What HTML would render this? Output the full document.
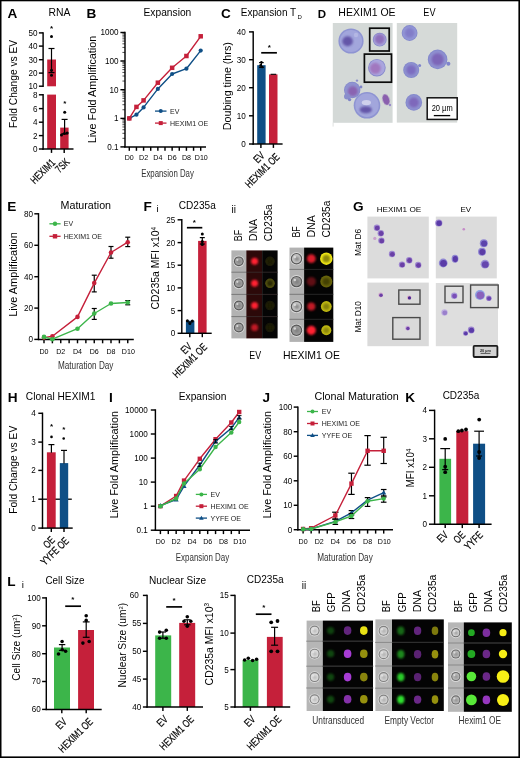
<!DOCTYPE html>
<html lang="en"><head><meta charset="utf-8"><title>Figure</title>
<style>html,body{margin:0;padding:0;background:#fff}svg text{white-space:pre}</style></head>
<body>
<svg width="520" height="758" viewBox="0 0 520 758" font-family='"Liberation Sans", Arial, Helvetica, sans-serif' style="display:block">
<defs>
<filter id="b1" x="-50%" y="-50%" width="200%" height="200%"><feGaussianBlur stdDeviation="0.6"/></filter>
<filter id="b2" x="-50%" y="-50%" width="200%" height="200%"><feGaussianBlur stdDeviation="1.1"/></filter>
<filter id="b3" x="-50%" y="-50%" width="200%" height="200%"><feGaussianBlur stdDeviation="1.8"/></filter>
<radialGradient id="gcell" cx="50%" cy="50%" r="50%"><stop offset="0" stop-color="#9a8fd0"/><stop offset="0.75" stop-color="#8f8fd6"/><stop offset="1" stop-color="#7f83cf"/></radialGradient>
<radialGradient id="gbf" cx="50%" cy="50%" r="50%"><stop offset="0" stop-color="#d8d8d8"/><stop offset="0.55" stop-color="#b8b8b8"/><stop offset="0.8" stop-color="#6e6e6e"/><stop offset="1" stop-color="#c4c4c4"/></radialGradient>
</defs>
<rect x="0.00" y="0.00" width="520.00" height="758.00" fill="#fff"/>
<g opacity="0.999">
<text x="12.30" y="18.27" font-size="13.6" text-anchor="middle" font-weight="bold">A</text>
<text x="59.60" y="16.32" font-size="10.4" text-anchor="middle">RNA</text>
<text transform="translate(16.87 83.90) rotate(-90)" font-size="10.8" text-anchor="middle" textLength="88.00" lengthAdjust="spacingAndGlyphs">Fold Change vs EV</text>
<rect x="47.20" y="59.50" width="8.80" height="26.80" fill="#c5203a"/>
<rect x="47.20" y="94.60" width="8.80" height="54.40" fill="#c5203a"/>
<rect x="60.20" y="127.60" width="8.40" height="21.40" fill="#c5203a"/>
<line x1="43.10" y1="32.17" x2="43.10" y2="86.92" stroke="#000" stroke-width="1.45"/>
<line x1="38.90" y1="32.90" x2="43.10" y2="32.90" stroke="#000" stroke-width="1.45"/>
<text x="37.50" y="35.82" font-size="8.15" text-anchor="end">50</text>
<line x1="38.90" y1="46.10" x2="43.10" y2="46.10" stroke="#000" stroke-width="1.45"/>
<text x="37.50" y="49.02" font-size="8.15" text-anchor="end">40</text>
<line x1="38.90" y1="59.70" x2="43.10" y2="59.70" stroke="#000" stroke-width="1.45"/>
<text x="37.50" y="62.62" font-size="8.15" text-anchor="end">30</text>
<line x1="38.90" y1="73.10" x2="43.10" y2="73.10" stroke="#000" stroke-width="1.45"/>
<text x="37.50" y="76.02" font-size="8.15" text-anchor="end">20</text>
<line x1="38.90" y1="86.20" x2="43.10" y2="86.20" stroke="#000" stroke-width="1.45"/>
<text x="37.50" y="89.12" font-size="8.15" text-anchor="end">10</text>
<line x1="43.10" y1="94.08" x2="43.10" y2="149.72" stroke="#000" stroke-width="1.45"/>
<line x1="38.90" y1="94.80" x2="43.10" y2="94.80" stroke="#000" stroke-width="1.45"/>
<text x="37.50" y="97.72" font-size="8.15" text-anchor="end">8</text>
<line x1="38.90" y1="108.60" x2="43.10" y2="108.60" stroke="#000" stroke-width="1.45"/>
<text x="37.50" y="111.52" font-size="8.15" text-anchor="end">6</text>
<line x1="38.90" y1="122.20" x2="43.10" y2="122.20" stroke="#000" stroke-width="1.45"/>
<text x="37.50" y="125.12" font-size="8.15" text-anchor="end">4</text>
<line x1="38.90" y1="135.60" x2="43.10" y2="135.60" stroke="#000" stroke-width="1.45"/>
<text x="37.50" y="138.52" font-size="8.15" text-anchor="end">2</text>
<line x1="38.90" y1="149.00" x2="43.10" y2="149.00" stroke="#000" stroke-width="1.45"/>
<text x="37.50" y="151.92" font-size="8.15" text-anchor="end">0</text>
<line x1="42.38" y1="149.00" x2="73.50" y2="149.00" stroke="#000" stroke-width="1.45"/>
<line x1="51.50" y1="149.00" x2="51.50" y2="152.90" stroke="#000" stroke-width="1.45"/>
<line x1="64.20" y1="149.00" x2="64.20" y2="152.90" stroke="#000" stroke-width="1.45"/>
<line x1="51.50" y1="48.50" x2="51.50" y2="72.60" stroke="#000" stroke-width="1.2"/>
<line x1="48.50" y1="48.50" x2="54.50" y2="48.50" stroke="#000" stroke-width="1.2"/>
<line x1="48.50" y1="72.60" x2="54.50" y2="72.60" stroke="#000" stroke-width="1.2"/>
<line x1="64.60" y1="119.40" x2="64.60" y2="133.80" stroke="#000" stroke-width="1.2"/>
<line x1="61.60" y1="119.40" x2="67.60" y2="119.40" stroke="#000" stroke-width="1.2"/>
<line x1="61.60" y1="133.80" x2="67.60" y2="133.80" stroke="#000" stroke-width="1.2"/>
<circle cx="51.50" cy="36.50" r="1.50" fill="#000"/>
<circle cx="51.50" cy="70.30" r="1.50" fill="#000"/>
<circle cx="51.50" cy="75.30" r="1.50" fill="#000"/>
<circle cx="64.70" cy="112.30" r="1.50" fill="#000"/>
<circle cx="61.50" cy="135.00" r="1.50" fill="#000"/>
<circle cx="64.40" cy="133.50" r="1.50" fill="#000"/>
<circle cx="67.20" cy="132.90" r="1.50" fill="#000"/>
<text x="51.50" y="30.56" font-size="8.0" text-anchor="middle" font-weight="bold">*</text>
<text x="64.70" y="105.76" font-size="8.0" text-anchor="middle" font-weight="bold">*</text>
<text transform="translate(55.80 163.40) rotate(-45) scale(0.74 1)" font-size="10.8" text-anchor="end" fill="#000" stroke="#000" stroke-width="0.22">HEXIM1</text>
<text transform="translate(70.20 162.80) rotate(-45) scale(0.74 1)" font-size="10.8" text-anchor="end" fill="#000" stroke="#000" stroke-width="0.22">7SK</text>
<text x="91.30" y="18.27" font-size="13.6" text-anchor="middle" font-weight="bold">B</text>
<text x="167.40" y="16.29" font-size="10.6" text-anchor="middle" textLength="47.80" lengthAdjust="spacingAndGlyphs">Expansion</text>
<text transform="translate(96.17 89.50) rotate(-90)" font-size="10.8" text-anchor="middle" textLength="107.60" lengthAdjust="spacingAndGlyphs">Live Fold Amplification</text>
<line x1="125.00" y1="31.77" x2="125.00" y2="147.62" stroke="#000" stroke-width="1.45"/>
<line x1="120.40" y1="32.50" x2="125.00" y2="32.50" stroke="#000" stroke-width="1.45"/>
<text x="118.50" y="35.42" font-size="8.15" text-anchor="end">1000</text>
<line x1="120.40" y1="61.00" x2="125.00" y2="61.00" stroke="#000" stroke-width="1.45"/>
<text x="118.50" y="63.92" font-size="8.15" text-anchor="end">100</text>
<line x1="120.40" y1="89.70" x2="125.00" y2="89.70" stroke="#000" stroke-width="1.45"/>
<text x="118.50" y="92.62" font-size="8.15" text-anchor="end">10</text>
<line x1="120.40" y1="118.40" x2="125.00" y2="118.40" stroke="#000" stroke-width="1.45"/>
<text x="118.50" y="121.32" font-size="8.15" text-anchor="end">1</text>
<line x1="120.40" y1="146.90" x2="125.00" y2="146.90" stroke="#000" stroke-width="1.45"/>
<text x="118.50" y="149.82" font-size="8.15" text-anchor="end">0.1</text>
<line x1="122.40" y1="52.42" x2="125.00" y2="52.42" stroke="#000" stroke-width="0.7"/>
<line x1="122.40" y1="47.40" x2="125.00" y2="47.40" stroke="#000" stroke-width="0.7"/>
<line x1="122.40" y1="43.84" x2="125.00" y2="43.84" stroke="#000" stroke-width="0.7"/>
<line x1="122.40" y1="41.08" x2="125.00" y2="41.08" stroke="#000" stroke-width="0.7"/>
<line x1="122.40" y1="38.82" x2="125.00" y2="38.82" stroke="#000" stroke-width="0.7"/>
<line x1="122.40" y1="36.91" x2="125.00" y2="36.91" stroke="#000" stroke-width="0.7"/>
<line x1="122.40" y1="35.26" x2="125.00" y2="35.26" stroke="#000" stroke-width="0.7"/>
<line x1="122.40" y1="33.80" x2="125.00" y2="33.80" stroke="#000" stroke-width="0.7"/>
<line x1="122.40" y1="81.06" x2="125.00" y2="81.06" stroke="#000" stroke-width="0.7"/>
<line x1="122.40" y1="76.01" x2="125.00" y2="76.01" stroke="#000" stroke-width="0.7"/>
<line x1="122.40" y1="72.42" x2="125.00" y2="72.42" stroke="#000" stroke-width="0.7"/>
<line x1="122.40" y1="69.64" x2="125.00" y2="69.64" stroke="#000" stroke-width="0.7"/>
<line x1="122.40" y1="67.37" x2="125.00" y2="67.37" stroke="#000" stroke-width="0.7"/>
<line x1="122.40" y1="65.45" x2="125.00" y2="65.45" stroke="#000" stroke-width="0.7"/>
<line x1="122.40" y1="63.78" x2="125.00" y2="63.78" stroke="#000" stroke-width="0.7"/>
<line x1="122.40" y1="62.31" x2="125.00" y2="62.31" stroke="#000" stroke-width="0.7"/>
<line x1="122.40" y1="109.76" x2="125.00" y2="109.76" stroke="#000" stroke-width="0.7"/>
<line x1="122.40" y1="104.71" x2="125.00" y2="104.71" stroke="#000" stroke-width="0.7"/>
<line x1="122.40" y1="101.12" x2="125.00" y2="101.12" stroke="#000" stroke-width="0.7"/>
<line x1="122.40" y1="98.34" x2="125.00" y2="98.34" stroke="#000" stroke-width="0.7"/>
<line x1="122.40" y1="96.07" x2="125.00" y2="96.07" stroke="#000" stroke-width="0.7"/>
<line x1="122.40" y1="94.15" x2="125.00" y2="94.15" stroke="#000" stroke-width="0.7"/>
<line x1="122.40" y1="92.48" x2="125.00" y2="92.48" stroke="#000" stroke-width="0.7"/>
<line x1="122.40" y1="91.01" x2="125.00" y2="91.01" stroke="#000" stroke-width="0.7"/>
<line x1="122.40" y1="138.32" x2="125.00" y2="138.32" stroke="#000" stroke-width="0.7"/>
<line x1="122.40" y1="133.30" x2="125.00" y2="133.30" stroke="#000" stroke-width="0.7"/>
<line x1="122.40" y1="129.74" x2="125.00" y2="129.74" stroke="#000" stroke-width="0.7"/>
<line x1="122.40" y1="126.98" x2="125.00" y2="126.98" stroke="#000" stroke-width="0.7"/>
<line x1="122.40" y1="124.72" x2="125.00" y2="124.72" stroke="#000" stroke-width="0.7"/>
<line x1="122.40" y1="122.81" x2="125.00" y2="122.81" stroke="#000" stroke-width="0.7"/>
<line x1="122.40" y1="121.16" x2="125.00" y2="121.16" stroke="#000" stroke-width="0.7"/>
<line x1="122.40" y1="119.70" x2="125.00" y2="119.70" stroke="#000" stroke-width="0.7"/>
<line x1="124.28" y1="146.90" x2="206.00" y2="146.90" stroke="#000" stroke-width="1.45"/>
<line x1="129.30" y1="146.90" x2="129.30" y2="150.80" stroke="#000" stroke-width="1.45"/>
<line x1="136.44" y1="146.90" x2="136.44" y2="150.80" stroke="#000" stroke-width="1.45"/>
<line x1="143.58" y1="146.90" x2="143.58" y2="150.80" stroke="#000" stroke-width="1.45"/>
<line x1="150.72" y1="146.90" x2="150.72" y2="150.80" stroke="#000" stroke-width="1.45"/>
<line x1="157.86" y1="146.90" x2="157.86" y2="150.80" stroke="#000" stroke-width="1.45"/>
<line x1="165.00" y1="146.90" x2="165.00" y2="150.80" stroke="#000" stroke-width="1.45"/>
<line x1="172.14" y1="146.90" x2="172.14" y2="150.80" stroke="#000" stroke-width="1.45"/>
<line x1="179.28" y1="146.90" x2="179.28" y2="150.80" stroke="#000" stroke-width="1.45"/>
<line x1="186.42" y1="146.90" x2="186.42" y2="150.80" stroke="#000" stroke-width="1.45"/>
<line x1="193.56" y1="146.90" x2="193.56" y2="150.80" stroke="#000" stroke-width="1.45"/>
<line x1="200.70" y1="146.90" x2="200.70" y2="150.80" stroke="#000" stroke-width="1.45"/>
<text x="129.30" y="160.44" font-size="7.1" text-anchor="middle">D0</text>
<text x="143.58" y="160.44" font-size="7.1" text-anchor="middle">D2</text>
<text x="157.86" y="160.44" font-size="7.1" text-anchor="middle">D4</text>
<text x="172.14" y="160.44" font-size="7.1" text-anchor="middle">D6</text>
<text x="186.42" y="160.44" font-size="7.1" text-anchor="middle">D8</text>
<text x="201.30" y="160.44" font-size="7.1" text-anchor="middle">D10</text>
<text transform="translate(167.50 176.58) scale(0.785 1)" font-size="10" text-anchor="middle" fill="#333">Expansion Day</text>
<polyline points="129.30,118.40 136.44,114.70 143.58,107.40 157.86,88.90 172.14,74.00 186.42,68.70 200.70,50.60" fill="none" stroke="#0f4f86" stroke-width="1.4" stroke-linejoin="round"/>
<circle cx="129.30" cy="118.40" r="2.10" fill="#0f4f86"/>
<circle cx="136.44" cy="114.70" r="2.10" fill="#0f4f86"/>
<circle cx="143.58" cy="107.40" r="2.10" fill="#0f4f86"/>
<circle cx="157.86" cy="88.90" r="2.10" fill="#0f4f86"/>
<circle cx="172.14" cy="74.00" r="2.10" fill="#0f4f86"/>
<circle cx="186.42" cy="68.70" r="2.10" fill="#0f4f86"/>
<circle cx="200.70" cy="50.60" r="2.10" fill="#0f4f86"/>
<polyline points="129.30,118.40 136.44,106.90 143.58,100.40 157.86,82.70 172.14,67.80 186.42,56.00 200.70,36.30" fill="none" stroke="#c5203a" stroke-width="1.4" stroke-linejoin="round"/>
<rect x="127.05" y="116.15" width="4.50" height="4.50" fill="#c5203a"/>
<rect x="134.19" y="104.65" width="4.50" height="4.50" fill="#c5203a"/>
<rect x="141.33" y="98.15" width="4.50" height="4.50" fill="#c5203a"/>
<rect x="155.61" y="80.45" width="4.50" height="4.50" fill="#c5203a"/>
<rect x="169.89" y="65.55" width="4.50" height="4.50" fill="#c5203a"/>
<rect x="184.17" y="53.75" width="4.50" height="4.50" fill="#c5203a"/>
<rect x="198.45" y="34.05" width="4.50" height="4.50" fill="#c5203a"/>
<line x1="155.00" y1="111.10" x2="166.50" y2="111.10" stroke="#0f4f86" stroke-width="1.3"/>
<circle cx="160.75" cy="111.10" r="2.00" fill="#0f4f86"/>
<text x="170.00" y="113.61" font-size="7.0" text-anchor="start" fill="#222">EV</text>
<line x1="155.00" y1="123.10" x2="166.50" y2="123.10" stroke="#c5203a" stroke-width="1.3"/>
<rect x="158.75" y="121.10" width="4.00" height="4.00" fill="#c5203a"/>
<text x="170.00" y="125.61" font-size="7.0" text-anchor="start" fill="#222">HEXIM1 OE</text>
<text x="226.00" y="18.27" font-size="13.6" text-anchor="middle" font-weight="bold">C</text>
<text x="240.80" y="16.29" font-size="10.6" text-anchor="start" textLength="55.40" lengthAdjust="spacingAndGlyphs">Expansion T</text>
<text x="297.50" y="18.55" font-size="6.0" text-anchor="start">D</text>
<text transform="translate(231.17 86.20) rotate(-90)" font-size="10.8" text-anchor="middle" textLength="88.00" lengthAdjust="spacingAndGlyphs">Doubing time (hrs)</text>
<rect x="257.20" y="65.20" width="8.40" height="78.80" fill="#0f4f86"/>
<rect x="269.00" y="74.40" width="8.50" height="69.60" fill="#c5203a"/>
<line x1="253.20" y1="31.17" x2="253.20" y2="144.72" stroke="#000" stroke-width="1.45"/>
<line x1="249.00" y1="31.90" x2="253.20" y2="31.90" stroke="#000" stroke-width="1.45"/>
<text x="245.80" y="34.82" font-size="8.15" text-anchor="end">40</text>
<line x1="249.00" y1="59.70" x2="253.20" y2="59.70" stroke="#000" stroke-width="1.45"/>
<text x="245.80" y="62.62" font-size="8.15" text-anchor="end">30</text>
<line x1="249.00" y1="87.70" x2="253.20" y2="87.70" stroke="#000" stroke-width="1.45"/>
<text x="245.80" y="90.62" font-size="8.15" text-anchor="end">20</text>
<line x1="249.00" y1="115.80" x2="253.20" y2="115.80" stroke="#000" stroke-width="1.45"/>
<text x="245.80" y="118.72" font-size="8.15" text-anchor="end">10</text>
<line x1="249.00" y1="144.00" x2="253.20" y2="144.00" stroke="#000" stroke-width="1.45"/>
<text x="245.80" y="146.92" font-size="8.15" text-anchor="end">0</text>
<line x1="252.47" y1="144.00" x2="282.60" y2="144.00" stroke="#000" stroke-width="1.45"/>
<line x1="260.90" y1="144.00" x2="260.90" y2="147.90" stroke="#000" stroke-width="1.45"/>
<line x1="273.40" y1="144.00" x2="273.40" y2="147.90" stroke="#000" stroke-width="1.45"/>
<line x1="261.40" y1="62.60" x2="261.40" y2="67.40" stroke="#000" stroke-width="1.2"/>
<line x1="259.10" y1="62.60" x2="263.70" y2="62.60" stroke="#000" stroke-width="1.2"/>
<line x1="259.10" y1="67.40" x2="263.70" y2="67.40" stroke="#000" stroke-width="1.2"/>
<circle cx="261.40" cy="62.20" r="1.30" fill="#000"/>
<circle cx="260.60" cy="65.40" r="1.30" fill="#000"/>
<circle cx="262.20" cy="67.00" r="1.30" fill="#000"/>
<line x1="270.60" y1="74.30" x2="276.20" y2="74.30" stroke="#000" stroke-width="1.1"/>
<line x1="261.20" y1="52.80" x2="276.90" y2="52.80" stroke="#000" stroke-width="1.7"/>
<text x="269.40" y="49.56" font-size="8.0" text-anchor="middle" font-weight="bold">*</text>
<text transform="translate(265.30 156.30) rotate(-45) scale(0.74 1)" font-size="10.8" text-anchor="end" fill="#000" stroke="#000" stroke-width="0.22">EV</text>
<text transform="translate(280.30 157.60) rotate(-45) scale(0.74 1)" font-size="10.8" text-anchor="end" fill="#000" stroke="#000" stroke-width="0.22">HEXIM1 OE</text>
<text x="322.00" y="17.62" font-size="11.5" text-anchor="middle" font-weight="bold">D</text>
<text x="367.00" y="16.09" font-size="10.6" text-anchor="middle" textLength="57.30" lengthAdjust="spacingAndGlyphs">HEXIM1 OE</text>
<text x="429.40" y="16.09" font-size="10.6" text-anchor="middle" textLength="12.20" lengthAdjust="spacingAndGlyphs">EV</text>
<rect x="332.80" y="23.00" width="59.80" height="99.80" fill="#d4d9d7"/>
<rect x="332.60" y="122.60" width="1.00" height="4.00" fill="#dfe2e0"/>
<rect x="396.80" y="23.00" width="60.40" height="99.60" fill="#d6dad8"/>
<circle cx="351.00" cy="41.00" r="12.60" fill="#8e94d2" filter="url(#b1)"/>
<circle cx="351.00" cy="41.00" r="11.09" fill="#a2a6dc" filter="url(#b1)"/>
<ellipse cx="347.60" cy="41.20" rx="5.29" ry="5.04" fill="#5a4aa0" filter="url(#b2)" opacity="0.85"/>
<circle cx="356.00" cy="35.00" r="2.20" fill="#b9bce6" filter="url(#b1)" opacity="0.8"/>
<ellipse cx="379.70" cy="39.70" rx="6.90" ry="6.90" fill="#8489cc" filter="url(#b1)"/>
<ellipse cx="379.70" cy="39.70" rx="6.21" ry="6.21" fill="#a8a2da" filter="url(#b1)"/>
<ellipse cx="379.70" cy="39.10" rx="4.83" ry="4.83" fill="#8a66b6" filter="url(#b2)" opacity="0.85"/>
<ellipse cx="376.90" cy="67.70" rx="8.80" ry="8.80" fill="#8489cc" filter="url(#b1)"/>
<ellipse cx="376.90" cy="67.70" rx="7.92" ry="7.92" fill="#aaa6de" filter="url(#b1)"/>
<ellipse cx="375.30" cy="68.30" rx="5.46" ry="5.46" fill="#a070ba" filter="url(#b2)" opacity="0.85"/>
<ellipse cx="352.20" cy="90.00" rx="8.20" ry="8.20" fill="#8489cc" filter="url(#b1)"/>
<ellipse cx="352.20" cy="90.00" rx="7.38" ry="7.38" fill="#9093d0" filter="url(#b1)"/>
<ellipse cx="352.80" cy="91.20" rx="4.92" ry="4.92" fill="#8a5cac" filter="url(#b2)" opacity="0.85"/>
<circle cx="347.00" cy="96.60" r="3.00" fill="#8a8ecc" filter="url(#b1)"/>
<circle cx="349.60" cy="99.60" r="1.70" fill="#7f84c8" filter="url(#b1)"/>
<circle cx="361.00" cy="87.00" r="1.40" fill="#7f84c8" filter="url(#b1)"/>
<circle cx="357.00" cy="80.60" r="1.20" fill="#8a8ecc" filter="url(#b1)"/>
<circle cx="367.00" cy="105.30" r="13.30" fill="#8e94d2" filter="url(#b1)"/>
<circle cx="367.00" cy="105.30" r="11.70" fill="#a2a6dc" filter="url(#b1)"/>
<ellipse cx="365.80" cy="109.70" rx="6.12" ry="3.46" fill="#5a4aa0" filter="url(#b2)" opacity="0.85"/>
<ellipse cx="366.40" cy="102.60" rx="4.60" ry="2.60" fill="#cfd0ec" filter="url(#b1)"/>
<ellipse cx="386.00" cy="99.60" rx="3.40" ry="5.60" fill="#8a5eae" filter="url(#b1)" transform="rotate(-18 386 99.6)"/>
<circle cx="390.00" cy="105.00" r="1.20" fill="#9a8ccc" filter="url(#b1)"/>
<rect x="369.70" y="28.20" width="19.50" height="22.80" fill="none" stroke="#0a0a0a" stroke-width="1.7"/>
<rect x="364.40" y="54.10" width="27.10" height="28.10" fill="none" stroke="#0a0a0a" stroke-width="1.7"/>
<ellipse cx="409.60" cy="33.00" rx="7.90" ry="7.90" fill="#8489cc" filter="url(#b1)"/>
<ellipse cx="409.60" cy="33.00" rx="7.11" ry="7.11" fill="#9296d6" filter="url(#b1)"/>
<ellipse cx="409.60" cy="33.00" rx="4.74" ry="4.74" fill="#7f78c6" filter="url(#b2)" opacity="0.85"/>
<ellipse cx="437.60" cy="59.40" rx="9.80" ry="9.80" fill="#8489cc" filter="url(#b1)"/>
<ellipse cx="437.60" cy="59.40" rx="8.82" ry="8.82" fill="#8f90d0" filter="url(#b1)"/>
<ellipse cx="437.60" cy="59.40" rx="6.08" ry="6.08" fill="#7a5fb4" filter="url(#b2)" opacity="0.85"/>
<circle cx="448.40" cy="63.80" r="2.00" fill="#7f84cc" filter="url(#b1)"/>
<ellipse cx="411.20" cy="70.00" rx="8.00" ry="8.00" fill="#8489cc" filter="url(#b1)"/>
<ellipse cx="411.20" cy="70.00" rx="7.20" ry="7.20" fill="#8e90d0" filter="url(#b1)"/>
<ellipse cx="411.20" cy="70.00" rx="4.80" ry="4.80" fill="#7a68be" filter="url(#b2)" opacity="0.85"/>
<circle cx="419.60" cy="65.60" r="1.50" fill="#7f84cc" filter="url(#b1)"/>
<ellipse cx="413.80" cy="102.40" rx="8.30" ry="8.30" fill="#8489cc" filter="url(#b1)"/>
<ellipse cx="413.80" cy="102.40" rx="7.47" ry="7.47" fill="#8e90d0" filter="url(#b1)"/>
<ellipse cx="413.80" cy="102.40" rx="4.98" ry="4.98" fill="#7c62b8" filter="url(#b2)" opacity="0.85"/>
<rect x="427.20" y="97.80" width="30.00" height="21.60" fill="#fdfdfd" stroke="#111" stroke-width="1.5"/>
<text x="442.20" y="110.74" font-size="8.2" text-anchor="middle" textLength="21.00" lengthAdjust="spacingAndGlyphs">20 µm</text>
<line x1="433.80" y1="115.60" x2="450.20" y2="115.60" stroke="#000" stroke-width="1.3"/>
<text x="11.90" y="210.87" font-size="13.6" text-anchor="middle" font-weight="bold">E</text>
<text x="85.80" y="209.32" font-size="10.4" text-anchor="middle" textLength="50.50" lengthAdjust="spacingAndGlyphs">Maturation</text>
<text transform="translate(17.07 274.50) rotate(-90)" font-size="10.8" text-anchor="middle" textLength="84.50" lengthAdjust="spacingAndGlyphs">Live Amplification</text>
<line x1="38.50" y1="213.08" x2="38.50" y2="340.12" stroke="#000" stroke-width="1.45"/>
<line x1="34.30" y1="213.80" x2="38.50" y2="213.80" stroke="#000" stroke-width="1.45"/>
<text x="33.10" y="216.72" font-size="8.15" text-anchor="end">80</text>
<line x1="34.30" y1="245.30" x2="38.50" y2="245.30" stroke="#000" stroke-width="1.45"/>
<text x="33.10" y="248.22" font-size="8.15" text-anchor="end">60</text>
<line x1="34.30" y1="276.70" x2="38.50" y2="276.70" stroke="#000" stroke-width="1.45"/>
<text x="33.10" y="279.62" font-size="8.15" text-anchor="end">40</text>
<line x1="34.30" y1="308.10" x2="38.50" y2="308.10" stroke="#000" stroke-width="1.45"/>
<text x="33.10" y="311.02" font-size="8.15" text-anchor="end">20</text>
<line x1="34.30" y1="339.40" x2="38.50" y2="339.40" stroke="#000" stroke-width="1.45"/>
<text x="33.10" y="342.32" font-size="8.15" text-anchor="end">0</text>
<line x1="37.77" y1="339.40" x2="133.80" y2="339.40" stroke="#000" stroke-width="1.45"/>
<line x1="44.00" y1="339.40" x2="44.00" y2="343.30" stroke="#000" stroke-width="1.45"/>
<line x1="52.38" y1="339.40" x2="52.38" y2="343.30" stroke="#000" stroke-width="1.45"/>
<line x1="60.75" y1="339.40" x2="60.75" y2="343.30" stroke="#000" stroke-width="1.45"/>
<line x1="69.12" y1="339.40" x2="69.12" y2="343.30" stroke="#000" stroke-width="1.45"/>
<line x1="77.50" y1="339.40" x2="77.50" y2="343.30" stroke="#000" stroke-width="1.45"/>
<line x1="85.88" y1="339.40" x2="85.88" y2="343.30" stroke="#000" stroke-width="1.45"/>
<line x1="94.25" y1="339.40" x2="94.25" y2="343.30" stroke="#000" stroke-width="1.45"/>
<line x1="102.62" y1="339.40" x2="102.62" y2="343.30" stroke="#000" stroke-width="1.45"/>
<line x1="111.00" y1="339.40" x2="111.00" y2="343.30" stroke="#000" stroke-width="1.45"/>
<line x1="119.38" y1="339.40" x2="119.38" y2="343.30" stroke="#000" stroke-width="1.45"/>
<line x1="127.75" y1="339.40" x2="127.75" y2="343.30" stroke="#000" stroke-width="1.45"/>
<text x="44.00" y="353.54" font-size="7.1" text-anchor="middle">D0</text>
<text x="60.75" y="353.54" font-size="7.1" text-anchor="middle">D2</text>
<text x="77.50" y="353.54" font-size="7.1" text-anchor="middle">D4</text>
<text x="94.25" y="353.54" font-size="7.1" text-anchor="middle">D6</text>
<text x="111.00" y="353.54" font-size="7.1" text-anchor="middle">D8</text>
<text x="128.35" y="353.54" font-size="7.1" text-anchor="middle">D10</text>
<text transform="translate(85.70 369.48) scale(0.82 1)" font-size="10" text-anchor="middle" fill="#333">Maturation Day</text>
<line x1="94.25" y1="275.20" x2="94.25" y2="291.90" stroke="#000" stroke-width="1.2"/>
<line x1="91.75" y1="275.20" x2="96.75" y2="275.20" stroke="#000" stroke-width="1.2"/>
<line x1="91.75" y1="291.90" x2="96.75" y2="291.90" stroke="#000" stroke-width="1.2"/>
<line x1="111.00" y1="246.50" x2="111.00" y2="258.20" stroke="#000" stroke-width="1.2"/>
<line x1="108.50" y1="246.50" x2="113.50" y2="246.50" stroke="#000" stroke-width="1.2"/>
<line x1="108.50" y1="258.20" x2="113.50" y2="258.20" stroke="#000" stroke-width="1.2"/>
<line x1="127.75" y1="237.20" x2="127.75" y2="246.60" stroke="#000" stroke-width="1.2"/>
<line x1="125.25" y1="237.20" x2="130.25" y2="237.20" stroke="#000" stroke-width="1.2"/>
<line x1="125.25" y1="246.60" x2="130.25" y2="246.60" stroke="#000" stroke-width="1.2"/>
<line x1="94.25" y1="308.50" x2="94.25" y2="319.40" stroke="#000" stroke-width="1.2"/>
<line x1="91.75" y1="308.50" x2="96.75" y2="308.50" stroke="#000" stroke-width="1.2"/>
<line x1="91.75" y1="319.40" x2="96.75" y2="319.40" stroke="#000" stroke-width="1.2"/>
<line x1="127.75" y1="300.60" x2="127.75" y2="304.80" stroke="#000" stroke-width="1.2"/>
<line x1="125.25" y1="300.60" x2="130.25" y2="300.60" stroke="#000" stroke-width="1.2"/>
<line x1="125.25" y1="304.80" x2="130.25" y2="304.80" stroke="#000" stroke-width="1.2"/>
<polyline points="44.00,337.60 52.38,336.20 77.50,316.90 94.25,283.10 111.00,252.50 127.75,242.20" fill="none" stroke="#c5203a" stroke-width="1.4" stroke-linejoin="round"/>
<circle cx="44.00" cy="337.60" r="2.30" fill="#c5203a"/>
<circle cx="52.38" cy="336.20" r="2.30" fill="#c5203a"/>
<circle cx="77.50" cy="316.90" r="2.30" fill="#c5203a"/>
<circle cx="94.25" cy="283.10" r="2.30" fill="#c5203a"/>
<circle cx="111.00" cy="252.50" r="2.30" fill="#c5203a"/>
<circle cx="127.75" cy="242.20" r="2.30" fill="#c5203a"/>
<polyline points="44.00,336.90 52.38,339.20 77.50,328.70 94.25,313.50 111.00,303.50 127.75,302.50" fill="none" stroke="#3cb54a" stroke-width="1.4" stroke-linejoin="round"/>
<circle cx="44.00" cy="336.90" r="2.30" fill="#3cb54a"/>
<circle cx="52.38" cy="339.20" r="2.30" fill="#3cb54a"/>
<circle cx="77.50" cy="328.70" r="2.30" fill="#3cb54a"/>
<circle cx="94.25" cy="313.50" r="2.30" fill="#3cb54a"/>
<circle cx="111.00" cy="303.50" r="2.30" fill="#3cb54a"/>
<circle cx="127.75" cy="302.50" r="2.30" fill="#3cb54a"/>
<line x1="49.40" y1="223.80" x2="60.60" y2="223.80" stroke="#3cb54a" stroke-width="1.3"/>
<circle cx="55.00" cy="223.80" r="2.20" fill="#3cb54a"/>
<text x="63.80" y="226.31" font-size="7.0" text-anchor="start" fill="#222">EV</text>
<line x1="49.40" y1="236.30" x2="60.60" y2="236.30" stroke="#c5203a" stroke-width="1.3"/>
<rect x="52.80" y="234.10" width="4.40" height="4.40" fill="#c5203a"/>
<text x="63.80" y="238.81" font-size="7.0" text-anchor="start" fill="#222">HEXIM1 OE</text>
<text x="147.60" y="210.87" font-size="13.6" text-anchor="middle" font-weight="bold">F</text>
<text x="157.70" y="212.40" font-size="9.8" text-anchor="middle">i</text>
<text x="197.30" y="208.85" font-size="10.2" text-anchor="middle" textLength="37.00" lengthAdjust="spacingAndGlyphs">CD235a</text>
<text transform="translate(159.47 268.20) rotate(-90)" font-size="10.8" text-anchor="middle" textLength="82.60" lengthAdjust="spacingAndGlyphs">CD235a MFI x10<tspan dy="-3.0" font-size="6.6">4</tspan></text>
<rect x="185.90" y="320.70" width="8.50" height="12.60" fill="#0f4f86"/>
<rect x="198.10" y="240.90" width="8.50" height="92.40" fill="#c5203a"/>
<line x1="181.80" y1="219.08" x2="181.80" y2="334.03" stroke="#000" stroke-width="1.45"/>
<line x1="177.60" y1="219.80" x2="181.80" y2="219.80" stroke="#000" stroke-width="1.45"/>
<text x="175.30" y="222.72" font-size="8.15" text-anchor="end">25</text>
<line x1="177.60" y1="242.60" x2="181.80" y2="242.60" stroke="#000" stroke-width="1.45"/>
<text x="175.30" y="245.52" font-size="8.15" text-anchor="end">20</text>
<line x1="177.60" y1="265.20" x2="181.80" y2="265.20" stroke="#000" stroke-width="1.45"/>
<text x="175.30" y="268.12" font-size="8.15" text-anchor="end">15</text>
<line x1="177.60" y1="287.90" x2="181.80" y2="287.90" stroke="#000" stroke-width="1.45"/>
<text x="175.30" y="290.82" font-size="8.15" text-anchor="end">10</text>
<line x1="177.60" y1="310.60" x2="181.80" y2="310.60" stroke="#000" stroke-width="1.45"/>
<text x="175.30" y="313.52" font-size="8.15" text-anchor="end">5</text>
<line x1="177.60" y1="333.30" x2="181.80" y2="333.30" stroke="#000" stroke-width="1.45"/>
<text x="175.30" y="336.22" font-size="8.15" text-anchor="end">0</text>
<line x1="181.08" y1="333.30" x2="211.70" y2="333.30" stroke="#000" stroke-width="1.45"/>
<line x1="189.80" y1="333.30" x2="189.80" y2="337.20" stroke="#000" stroke-width="1.45"/>
<line x1="202.30" y1="333.30" x2="202.30" y2="337.20" stroke="#000" stroke-width="1.45"/>
<line x1="202.30" y1="237.60" x2="202.30" y2="244.00" stroke="#000" stroke-width="1.2"/>
<line x1="199.80" y1="237.60" x2="204.80" y2="237.60" stroke="#000" stroke-width="1.2"/>
<line x1="199.80" y1="244.00" x2="204.80" y2="244.00" stroke="#000" stroke-width="1.2"/>
<circle cx="202.30" cy="233.90" r="1.50" fill="#000"/>
<circle cx="202.30" cy="241.60" r="1.50" fill="#000"/>
<circle cx="202.30" cy="244.60" r="1.50" fill="#000"/>
<circle cx="187.40" cy="320.80" r="1.50" fill="#000"/>
<circle cx="189.90" cy="323.60" r="1.50" fill="#000"/>
<circle cx="192.30" cy="321.00" r="1.50" fill="#000"/>
<line x1="187.60" y1="322.00" x2="192.20" y2="322.00" stroke="#000" stroke-width="1.0"/>
<line x1="186.90" y1="227.70" x2="202.30" y2="227.70" stroke="#000" stroke-width="1.7"/>
<text x="194.40" y="224.76" font-size="8.0" text-anchor="middle" font-weight="bold">*</text>
<text transform="translate(192.60 347.20) rotate(-45) scale(0.74 1)" font-size="10.8" text-anchor="end" fill="#000" stroke="#000" stroke-width="0.22">EV</text>
<text transform="translate(207.90 347.80) rotate(-45) scale(0.74 1)" font-size="10.8" text-anchor="end" fill="#000" stroke="#000" stroke-width="0.22">HEXIM1 OE</text>
<text x="233.80" y="212.90" font-size="10.0" text-anchor="middle">ii</text>
<text transform="translate(241.92 241.20) rotate(-90)" font-size="10.4" text-anchor="start" textLength="11.40" lengthAdjust="spacingAndGlyphs">BF</text>
<text transform="translate(256.92 241.20) rotate(-90)" font-size="10.4" text-anchor="start" textLength="22.40" lengthAdjust="spacingAndGlyphs">DNA</text>
<text transform="translate(272.12 241.20) rotate(-90)" font-size="10.4" text-anchor="start" textLength="36.90" lengthAdjust="spacingAndGlyphs">CD235a</text>
<text transform="translate(300.22 237.60) rotate(-90)" font-size="10.4" text-anchor="start" textLength="11.40" lengthAdjust="spacingAndGlyphs">BF</text>
<text transform="translate(315.22 237.60) rotate(-90)" font-size="10.4" text-anchor="start" textLength="22.40" lengthAdjust="spacingAndGlyphs">DNA</text>
<text transform="translate(330.32 237.60) rotate(-90)" font-size="10.4" text-anchor="start" textLength="36.90" lengthAdjust="spacingAndGlyphs">CD235a</text>
<text x="255.20" y="359.19" font-size="10.6" text-anchor="middle" textLength="11.80" lengthAdjust="spacingAndGlyphs">EV</text>
<text x="311.40" y="359.19" font-size="10.6" text-anchor="middle" textLength="57.00" lengthAdjust="spacingAndGlyphs">HEXIM1 OE</text>
<rect x="231.40" y="250.40" width="14.90" height="88.00" fill="#b2b2b2"/>
<rect x="246.30" y="250.40" width="15.80" height="88.00" fill="#2c0909"/>
<rect x="262.10" y="250.40" width="15.50" height="88.00" fill="#050505"/>
<line x1="231.40" y1="272.20" x2="246.30" y2="272.20" stroke="#6a6a6a" stroke-width="0.8"/>
<line x1="246.30" y1="272.20" x2="277.60" y2="272.20" stroke="#3a3030" stroke-width="0.8"/>
<line x1="231.40" y1="294.40" x2="246.30" y2="294.40" stroke="#6a6a6a" stroke-width="0.8"/>
<line x1="246.30" y1="294.40" x2="277.60" y2="294.40" stroke="#3a3030" stroke-width="0.8"/>
<line x1="231.40" y1="316.60" x2="246.30" y2="316.60" stroke="#6a6a6a" stroke-width="0.8"/>
<line x1="246.30" y1="316.60" x2="277.60" y2="316.60" stroke="#3a3030" stroke-width="0.8"/>
<circle cx="238.80" cy="261.30" r="5.80" fill="#dadada" filter="url(#b1)"/>
<circle cx="238.80" cy="261.30" r="4.90" fill="#555" filter="url(#b1)"/>
<circle cx="238.80" cy="261.30" r="3.80" fill="#a2a2a2" filter="url(#b1)"/>
<ellipse cx="239.20" cy="261.60" rx="2.21" ry="1.96" fill="#7c7c7c" filter="url(#b2)" opacity="0.8"/>
<circle cx="237.33" cy="259.83" r="1.08" fill="#e4e4e4" filter="url(#b1)" opacity="0.8"/>
<ellipse cx="254.60" cy="261.30" rx="3.50" ry="3.50" fill="#ff2030" filter="url(#b2)" opacity="1.0"/>
<circle cx="270.00" cy="261.30" r="4.80" fill="#c8c420" filter="url(#b1)" opacity="0.14"/>
<circle cx="270.00" cy="261.30" r="2.98" fill="#1a1a04" filter="url(#b2)" opacity="0.8"/>
<circle cx="238.80" cy="283.30" r="5.80" fill="#dadada" filter="url(#b1)"/>
<circle cx="238.80" cy="283.30" r="4.90" fill="#555" filter="url(#b1)"/>
<circle cx="238.80" cy="283.30" r="3.80" fill="#a2a2a2" filter="url(#b1)"/>
<ellipse cx="239.20" cy="283.60" rx="2.21" ry="1.96" fill="#7c7c7c" filter="url(#b2)" opacity="0.8"/>
<circle cx="237.33" cy="281.83" r="1.08" fill="#e4e4e4" filter="url(#b1)" opacity="0.8"/>
<ellipse cx="254.60" cy="283.30" rx="3.50" ry="3.50" fill="#ff2030" filter="url(#b2)" opacity="1.0"/>
<circle cx="270.00" cy="283.30" r="4.80" fill="#c8c420" filter="url(#b1)" opacity="0.42"/>
<circle cx="270.00" cy="283.30" r="2.98" fill="#1a1a04" filter="url(#b2)" opacity="0.8"/>
<circle cx="238.80" cy="305.50" r="5.80" fill="#dadada" filter="url(#b1)"/>
<circle cx="238.80" cy="305.50" r="4.90" fill="#555" filter="url(#b1)"/>
<circle cx="238.80" cy="305.50" r="3.80" fill="#a2a2a2" filter="url(#b1)"/>
<ellipse cx="239.20" cy="305.80" rx="2.21" ry="1.96" fill="#7c7c7c" filter="url(#b2)" opacity="0.8"/>
<circle cx="237.33" cy="304.03" r="1.08" fill="#e4e4e4" filter="url(#b1)" opacity="0.8"/>
<ellipse cx="254.60" cy="305.50" rx="3.50" ry="3.50" fill="#ff2030" filter="url(#b2)" opacity="1.0"/>
<circle cx="270.00" cy="305.50" r="4.80" fill="#c8c420" filter="url(#b1)" opacity="0.12"/>
<circle cx="270.00" cy="305.50" r="2.98" fill="#1a1a04" filter="url(#b2)" opacity="0.8"/>
<circle cx="238.80" cy="327.50" r="5.80" fill="#dadada" filter="url(#b1)"/>
<circle cx="238.80" cy="327.50" r="4.90" fill="#555" filter="url(#b1)"/>
<circle cx="238.80" cy="327.50" r="3.80" fill="#a2a2a2" filter="url(#b1)"/>
<ellipse cx="239.20" cy="327.80" rx="2.21" ry="1.96" fill="#7c7c7c" filter="url(#b2)" opacity="0.8"/>
<circle cx="237.33" cy="326.03" r="1.08" fill="#e4e4e4" filter="url(#b1)" opacity="0.8"/>
<ellipse cx="254.60" cy="327.50" rx="3.50" ry="3.50" fill="#ff2030" filter="url(#b2)" opacity="0.7"/>
<circle cx="270.00" cy="327.50" r="4.80" fill="#c8c420" filter="url(#b1)" opacity="0.1"/>
<circle cx="270.00" cy="327.50" r="2.98" fill="#1a1a04" filter="url(#b2)" opacity="0.8"/>
<rect x="289.50" y="247.60" width="14.60" height="94.30" fill="#b2b2b2"/>
<rect x="304.10" y="247.60" width="29.20" height="94.30" fill="#040404"/>
<line x1="289.50" y1="269.40" x2="304.10" y2="269.40" stroke="#6a6a6a" stroke-width="0.8"/>
<line x1="304.10" y1="269.40" x2="333.30" y2="269.40" stroke="#303030" stroke-width="0.8"/>
<line x1="289.50" y1="294.30" x2="304.10" y2="294.30" stroke="#6a6a6a" stroke-width="0.8"/>
<line x1="304.10" y1="294.30" x2="333.30" y2="294.30" stroke="#303030" stroke-width="0.8"/>
<line x1="289.50" y1="319.30" x2="304.10" y2="319.30" stroke="#6a6a6a" stroke-width="0.8"/>
<line x1="304.10" y1="319.30" x2="333.30" y2="319.30" stroke="#303030" stroke-width="0.8"/>
<circle cx="296.50" cy="258.70" r="6.60" fill="#dadada" filter="url(#b1)"/>
<circle cx="296.50" cy="258.70" r="5.70" fill="#555" filter="url(#b1)"/>
<circle cx="296.50" cy="258.70" r="4.60" fill="#c4c4c4" filter="url(#b1)"/>
<ellipse cx="296.90" cy="259.00" rx="2.56" ry="2.28" fill="#7c7c7c" filter="url(#b2)" opacity="0.8"/>
<circle cx="294.79" cy="256.99" r="1.25" fill="#e4e4e4" filter="url(#b1)" opacity="0.8"/>
<ellipse cx="311.30" cy="258.70" rx="4.40" ry="4.40" fill="#ff2030" filter="url(#b2)" opacity="0.85"/>
<circle cx="326.30" cy="258.70" r="6.20" fill="#f4ec18" filter="url(#b1)" opacity="1.0"/>
<circle cx="326.30" cy="258.70" r="3.84" fill="#3a3806" filter="url(#b2)" opacity="0.55"/>
<circle cx="296.50" cy="281.60" r="6.60" fill="#dadada" filter="url(#b1)"/>
<circle cx="296.50" cy="281.60" r="5.70" fill="#555" filter="url(#b1)"/>
<circle cx="296.50" cy="281.60" r="4.60" fill="#9a9a9a" filter="url(#b1)"/>
<ellipse cx="296.90" cy="281.90" rx="2.56" ry="2.28" fill="#7c7c7c" filter="url(#b2)" opacity="0.8"/>
<circle cx="294.79" cy="279.89" r="1.25" fill="#e4e4e4" filter="url(#b1)" opacity="0.8"/>
<ellipse cx="311.30" cy="281.60" rx="4.60" ry="4.60" fill="#ff2030" filter="url(#b2)" opacity="0.36"/>
<circle cx="326.30" cy="281.60" r="6.00" fill="#f4ec18" filter="url(#b1)" opacity="0.42"/>
<circle cx="326.30" cy="281.60" r="3.72" fill="#3a3806" filter="url(#b2)" opacity="0.8"/>
<circle cx="296.50" cy="306.50" r="6.60" fill="#dadada" filter="url(#b1)"/>
<circle cx="296.50" cy="306.50" r="5.70" fill="#555" filter="url(#b1)"/>
<circle cx="296.50" cy="306.50" r="4.60" fill="#c4c4c4" filter="url(#b1)"/>
<ellipse cx="296.90" cy="306.80" rx="2.56" ry="2.28" fill="#7c7c7c" filter="url(#b2)" opacity="0.8"/>
<circle cx="294.79" cy="304.79" r="1.25" fill="#e4e4e4" filter="url(#b1)" opacity="0.8"/>
<ellipse cx="311.30" cy="306.50" rx="4.00" ry="4.00" fill="#ff2030" filter="url(#b2)" opacity="0.75"/>
<circle cx="326.30" cy="306.50" r="5.40" fill="#f4ec18" filter="url(#b1)" opacity="0.8"/>
<circle cx="326.30" cy="306.50" r="3.35" fill="#3a3806" filter="url(#b2)" opacity="0.45"/>
<circle cx="296.50" cy="330.30" r="6.60" fill="#dadada" filter="url(#b1)"/>
<circle cx="296.50" cy="330.30" r="5.70" fill="#555" filter="url(#b1)"/>
<circle cx="296.50" cy="330.30" r="4.60" fill="#9a9a9a" filter="url(#b1)"/>
<ellipse cx="296.90" cy="330.60" rx="2.56" ry="2.28" fill="#7c7c7c" filter="url(#b2)" opacity="0.8"/>
<circle cx="294.79" cy="328.59" r="1.25" fill="#e4e4e4" filter="url(#b1)" opacity="0.8"/>
<ellipse cx="311.30" cy="330.30" rx="4.60" ry="4.60" fill="#ff2030" filter="url(#b2)" opacity="1.0"/>
<circle cx="326.30" cy="330.30" r="5.00" fill="#f4ec18" filter="url(#b1)" opacity="0.8"/>
<circle cx="326.30" cy="330.30" r="3.10" fill="#3a3806" filter="url(#b2)" opacity="0.4"/>
<text x="358.20" y="211.27" font-size="13.6" text-anchor="middle" font-weight="bold">G</text>
<text x="399.00" y="211.86" font-size="8.0" text-anchor="middle" textLength="44.60" lengthAdjust="spacingAndGlyphs">HEXIM1 OE</text>
<text x="465.80" y="211.86" font-size="8.0" text-anchor="middle">EV</text>
<text transform="translate(361.38 242.40) rotate(-90)" font-size="8.6" text-anchor="middle" textLength="27.20" lengthAdjust="spacingAndGlyphs">Mat D6</text>
<text transform="translate(361.38 316.80) rotate(-90)" font-size="8.6" text-anchor="middle" textLength="31.60" lengthAdjust="spacingAndGlyphs">Mat D10</text>
<g filter="url(#b1)">
<rect x="367.40" y="216.60" width="61.40" height="61.80" fill="#dcdcdc"/>
<rect x="367.40" y="282.60" width="61.40" height="63.60" fill="#dadada"/>
<rect x="435.80" y="216.60" width="61.00" height="61.80" fill="#dcdcdc"/>
<rect x="435.80" y="283.00" width="62.20" height="63.20" fill="#dedede"/>
</g>
<ellipse cx="376.90" cy="227.80" rx="3.20" ry="3.20" fill="#9d86cf" filter="url(#b1)"/>
<ellipse cx="377.20" cy="228.10" rx="2.40" ry="2.40" fill="#6a3fa6" filter="url(#b1)"/>
<ellipse cx="380.80" cy="233.20" rx="3.20" ry="3.20" fill="#9d86cf" filter="url(#b1)"/>
<ellipse cx="381.10" cy="233.50" rx="2.40" ry="2.40" fill="#6a3fa6" filter="url(#b1)"/>
<ellipse cx="381.40" cy="240.60" rx="3.20" ry="3.20" fill="#9d86cf" filter="url(#b1)"/>
<ellipse cx="381.70" cy="240.90" rx="2.40" ry="2.40" fill="#6a3fa6" filter="url(#b1)"/>
<ellipse cx="392.00" cy="254.00" rx="3.20" ry="3.20" fill="#9d86cf" filter="url(#b1)"/>
<ellipse cx="392.30" cy="254.30" rx="2.40" ry="2.40" fill="#6a3fa6" filter="url(#b1)"/>
<ellipse cx="402.00" cy="264.60" rx="3.20" ry="3.20" fill="#9d86cf" filter="url(#b1)"/>
<ellipse cx="402.30" cy="264.90" rx="2.40" ry="2.40" fill="#6a3fa6" filter="url(#b1)"/>
<ellipse cx="409.20" cy="260.20" rx="3.20" ry="3.20" fill="#9d86cf" filter="url(#b1)"/>
<ellipse cx="409.50" cy="260.50" rx="2.40" ry="2.40" fill="#6a3fa6" filter="url(#b1)"/>
<ellipse cx="418.20" cy="265.00" rx="3.20" ry="3.20" fill="#9d86cf" filter="url(#b1)"/>
<ellipse cx="418.50" cy="265.30" rx="2.40" ry="2.40" fill="#6a3fa6" filter="url(#b1)"/>
<circle cx="374.80" cy="238.40" r="1.60" fill="#c9a0cc" filter="url(#b1)"/>
<ellipse cx="380.70" cy="295.00" rx="2.40" ry="2.40" fill="#d0a8cc" filter="url(#b1)"/>
<ellipse cx="381.00" cy="295.30" rx="1.76" ry="1.76" fill="#6a3fa6" filter="url(#b1)"/>
<ellipse cx="409.20" cy="297.60" rx="2.20" ry="2.20" fill="#d9a8c8" filter="url(#b1)"/>
<ellipse cx="409.50" cy="297.90" rx="1.60" ry="1.60" fill="#4a2a90" filter="url(#b1)"/>
<ellipse cx="407.60" cy="328.20" rx="2.40" ry="2.40" fill="#c8a8d8" filter="url(#b1)"/>
<ellipse cx="407.90" cy="328.50" rx="1.76" ry="1.76" fill="#6a3fa6" filter="url(#b1)"/>
<rect x="398.80" y="290.00" width="21.20" height="14.20" fill="none" stroke="#4a4a4a" stroke-width="1.4"/>
<rect x="392.80" y="317.60" width="27.20" height="21.60" fill="none" stroke="#4a4a4a" stroke-width="1.4"/>
<ellipse cx="438.80" cy="223.00" rx="3.60" ry="3.60" fill="#9d86cf" filter="url(#b1)"/>
<ellipse cx="439.10" cy="223.30" rx="2.72" ry="2.72" fill="#5a3aa8" filter="url(#b1)"/>
<circle cx="463.80" cy="229.20" r="1.30" fill="#c58ac8" filter="url(#b1)"/>
<ellipse cx="483.80" cy="243.20" rx="4.00" ry="4.00" fill="#8f86d2" filter="url(#b1)"/>
<ellipse cx="484.10" cy="243.50" rx="3.04" ry="3.04" fill="#5c44ac" filter="url(#b1)"/>
<ellipse cx="482.00" cy="251.80" rx="4.00" ry="4.00" fill="#8f86d2" filter="url(#b1)"/>
<ellipse cx="482.30" cy="252.10" rx="3.04" ry="3.04" fill="#5c3ca6" filter="url(#b1)"/>
<ellipse cx="485.00" cy="264.20" rx="4.40" ry="4.40" fill="#9a90d6" filter="url(#b1)"/>
<ellipse cx="485.30" cy="264.50" rx="3.36" ry="3.36" fill="#6546ae" filter="url(#b1)"/>
<ellipse cx="443.20" cy="263.00" rx="4.40" ry="4.40" fill="#8f86d2" filter="url(#b1)"/>
<ellipse cx="443.50" cy="263.30" rx="3.36" ry="3.36" fill="#5a3aa8" filter="url(#b1)"/>
<ellipse cx="455.00" cy="258.80" rx="3.40" ry="4.00" fill="#8f86d2" filter="url(#b1)"/>
<ellipse cx="455.30" cy="259.10" rx="2.56" ry="3.04" fill="#5a3aa8" filter="url(#b1)"/>
<ellipse cx="454.20" cy="295.80" rx="3.20" ry="3.20" fill="#a99ad8" filter="url(#b1)"/>
<ellipse cx="454.50" cy="296.10" rx="2.40" ry="2.40" fill="#7a50b8" filter="url(#b1)"/>
<ellipse cx="480.00" cy="295.00" rx="5.00" ry="5.00" fill="#8ea2e2" filter="url(#b1)"/>
<ellipse cx="480.30" cy="295.30" rx="3.84" ry="3.84" fill="#8a62bc" filter="url(#b1)"/>
<ellipse cx="488.80" cy="298.20" rx="2.80" ry="2.80" fill="#9d86cf" filter="url(#b1)"/>
<ellipse cx="489.10" cy="298.50" rx="2.08" ry="2.08" fill="#6a44b0" filter="url(#b1)"/>
<ellipse cx="444.50" cy="312.50" rx="3.20" ry="3.20" fill="#c0b0e0" filter="url(#b1)"/>
<ellipse cx="444.80" cy="312.80" rx="2.40" ry="2.40" fill="#9a80cc" filter="url(#b1)"/>
<ellipse cx="471.20" cy="330.00" rx="3.40" ry="3.40" fill="#9d86cf" filter="url(#b1)"/>
<ellipse cx="471.50" cy="330.30" rx="2.56" ry="2.56" fill="#5a3aa8" filter="url(#b1)"/>
<ellipse cx="465.50" cy="333.20" rx="2.50" ry="2.50" fill="#9d86cf" filter="url(#b1)"/>
<ellipse cx="465.80" cy="333.50" rx="1.84" ry="1.84" fill="#5a3aa8" filter="url(#b1)"/>
<rect x="445.00" y="286.20" width="18.00" height="16.40" fill="none" stroke="#4a4a4a" stroke-width="1.4"/>
<rect x="470.60" y="285.00" width="27.60" height="22.60" fill="none" stroke="#4a4a4a" stroke-width="1.4"/>
<rect x="473.60" y="345.80" width="23.80" height="11.20" fill="#d2d2d2" stroke="#1c1c1c" stroke-width="1.8" rx="1"/>
<text x="485.40" y="351.96" font-size="3.8" text-anchor="middle" font-weight="bold" fill="#222">20 µm</text>
<line x1="480.60" y1="353.40" x2="490.40" y2="353.40" stroke="#222" stroke-width="0.7"/>
<text x="12.70" y="401.87" font-size="13.6" text-anchor="middle" font-weight="bold">H</text>
<text x="60.60" y="399.52" font-size="10.4" text-anchor="middle" textLength="69.60" lengthAdjust="spacingAndGlyphs">Clonal HEXIM1</text>
<text transform="translate(16.77 469.80) rotate(-90)" font-size="10.8" text-anchor="middle" textLength="88.00" lengthAdjust="spacingAndGlyphs">Fold Change vs EV</text>
<line x1="42.50" y1="499.20" x2="71.80" y2="499.20" stroke="#000" stroke-width="1.3"/>
<rect x="46.90" y="452.30" width="8.80" height="75.80" fill="#c5203a"/>
<rect x="59.80" y="463.10" width="8.40" height="65.00" fill="#0f4f86"/>
<line x1="42.50" y1="412.57" x2="42.50" y2="528.83" stroke="#000" stroke-width="1.45"/>
<line x1="38.30" y1="413.30" x2="42.50" y2="413.30" stroke="#000" stroke-width="1.45"/>
<text x="35.90" y="416.22" font-size="8.15" text-anchor="end">4</text>
<line x1="38.30" y1="442.10" x2="42.50" y2="442.10" stroke="#000" stroke-width="1.45"/>
<text x="35.90" y="445.02" font-size="8.15" text-anchor="end">3</text>
<line x1="38.30" y1="470.40" x2="42.50" y2="470.40" stroke="#000" stroke-width="1.45"/>
<text x="35.90" y="473.32" font-size="8.15" text-anchor="end">2</text>
<line x1="38.30" y1="499.20" x2="42.50" y2="499.20" stroke="#000" stroke-width="1.45"/>
<text x="35.90" y="502.12" font-size="8.15" text-anchor="end">1</text>
<line x1="38.30" y1="528.10" x2="42.50" y2="528.10" stroke="#000" stroke-width="1.45"/>
<text x="35.90" y="531.02" font-size="8.15" text-anchor="end">0</text>
<line x1="41.77" y1="528.10" x2="72.70" y2="528.10" stroke="#000" stroke-width="1.45"/>
<line x1="51.30" y1="528.10" x2="51.30" y2="532.00" stroke="#000" stroke-width="1.45"/>
<line x1="64.00" y1="528.10" x2="64.00" y2="532.00" stroke="#000" stroke-width="1.45"/>
<line x1="51.40" y1="444.60" x2="51.40" y2="452.80" stroke="#000" stroke-width="1.2"/>
<line x1="48.40" y1="444.60" x2="54.40" y2="444.60" stroke="#000" stroke-width="1.2"/>
<line x1="64.00" y1="450.40" x2="64.00" y2="463.60" stroke="#000" stroke-width="1.2"/>
<line x1="61.00" y1="450.40" x2="67.00" y2="450.40" stroke="#000" stroke-width="1.2"/>
<circle cx="51.50" cy="436.90" r="1.30" fill="#000"/>
<circle cx="63.70" cy="438.50" r="1.30" fill="#000"/>
<text x="51.50" y="429.36" font-size="8.0" text-anchor="middle" font-weight="bold">*</text>
<text x="63.70" y="432.26" font-size="8.0" text-anchor="middle" font-weight="bold">*</text>
<text transform="translate(55.60 540.80) rotate(-45) scale(0.74 1)" font-size="10.8" text-anchor="end" fill="#000" stroke="#000" stroke-width="0.22">OE</text>
<text transform="translate(69.60 541.60) rotate(-45) scale(0.74 1)" font-size="10.8" text-anchor="end" fill="#000" stroke="#000" stroke-width="0.22">YYFE OE</text>
<text x="111.00" y="401.87" font-size="13.6" text-anchor="middle" font-weight="bold">I</text>
<text x="202.60" y="399.59" font-size="10.6" text-anchor="middle" textLength="47.80" lengthAdjust="spacingAndGlyphs">Expansion</text>
<text transform="translate(118.27 464.80) rotate(-90)" font-size="10.8" text-anchor="middle" textLength="107.60" lengthAdjust="spacingAndGlyphs">Live Fold Amplification</text>
<line x1="155.40" y1="409.27" x2="155.40" y2="530.93" stroke="#000" stroke-width="1.45"/>
<line x1="150.80" y1="410.00" x2="155.40" y2="410.00" stroke="#000" stroke-width="1.45"/>
<text x="147.70" y="412.92" font-size="8.15" text-anchor="end">10000</text>
<line x1="150.80" y1="434.00" x2="155.40" y2="434.00" stroke="#000" stroke-width="1.45"/>
<text x="147.70" y="436.92" font-size="8.15" text-anchor="end">1000</text>
<line x1="150.80" y1="458.10" x2="155.40" y2="458.10" stroke="#000" stroke-width="1.45"/>
<text x="147.70" y="461.02" font-size="8.15" text-anchor="end">100</text>
<line x1="150.80" y1="482.10" x2="155.40" y2="482.10" stroke="#000" stroke-width="1.45"/>
<text x="147.70" y="485.02" font-size="8.15" text-anchor="end">10</text>
<line x1="150.80" y1="506.20" x2="155.40" y2="506.20" stroke="#000" stroke-width="1.45"/>
<text x="147.70" y="509.12" font-size="8.15" text-anchor="end">1</text>
<line x1="150.80" y1="530.20" x2="155.40" y2="530.20" stroke="#000" stroke-width="1.45"/>
<text x="147.70" y="533.12" font-size="8.15" text-anchor="end">0.1</text>
<line x1="154.68" y1="530.20" x2="250.00" y2="530.20" stroke="#000" stroke-width="1.45"/>
<line x1="160.40" y1="530.20" x2="160.40" y2="534.10" stroke="#000" stroke-width="1.45"/>
<line x1="168.28" y1="530.20" x2="168.28" y2="534.10" stroke="#000" stroke-width="1.45"/>
<line x1="176.16" y1="530.20" x2="176.16" y2="534.10" stroke="#000" stroke-width="1.45"/>
<line x1="184.04" y1="530.20" x2="184.04" y2="534.10" stroke="#000" stroke-width="1.45"/>
<line x1="191.92" y1="530.20" x2="191.92" y2="534.10" stroke="#000" stroke-width="1.45"/>
<line x1="199.80" y1="530.20" x2="199.80" y2="534.10" stroke="#000" stroke-width="1.45"/>
<line x1="207.68" y1="530.20" x2="207.68" y2="534.10" stroke="#000" stroke-width="1.45"/>
<line x1="215.56" y1="530.20" x2="215.56" y2="534.10" stroke="#000" stroke-width="1.45"/>
<line x1="223.44" y1="530.20" x2="223.44" y2="534.10" stroke="#000" stroke-width="1.45"/>
<line x1="231.32" y1="530.20" x2="231.32" y2="534.10" stroke="#000" stroke-width="1.45"/>
<line x1="239.20" y1="530.20" x2="239.20" y2="534.10" stroke="#000" stroke-width="1.45"/>
<text x="160.40" y="544.14" font-size="7.1" text-anchor="middle">D0</text>
<text x="176.16" y="544.14" font-size="7.1" text-anchor="middle">D2</text>
<text x="191.92" y="544.14" font-size="7.1" text-anchor="middle">D4</text>
<text x="207.68" y="544.14" font-size="7.1" text-anchor="middle">D6</text>
<text x="223.44" y="544.14" font-size="7.1" text-anchor="middle">D8</text>
<text x="239.80" y="544.14" font-size="7.1" text-anchor="middle">D10</text>
<text transform="translate(202.50 560.88) scale(0.795 1)" font-size="10" text-anchor="middle" fill="#333">Expansion Day</text>
<polyline points="160.40,506.20 176.16,496.00 184.04,480.60 199.80,458.80 215.56,439.20 231.32,422.50 239.20,412.00" fill="none" stroke="#c5203a" stroke-width="1.4" stroke-linejoin="round"/>
<rect x="158.20" y="504.00" width="4.40" height="4.40" fill="#c5203a"/>
<rect x="173.96" y="493.80" width="4.40" height="4.40" fill="#c5203a"/>
<rect x="181.84" y="478.40" width="4.40" height="4.40" fill="#c5203a"/>
<rect x="197.60" y="456.60" width="4.40" height="4.40" fill="#c5203a"/>
<rect x="213.36" y="437.00" width="4.40" height="4.40" fill="#c5203a"/>
<rect x="229.12" y="420.30" width="4.40" height="4.40" fill="#c5203a"/>
<rect x="237.00" y="409.80" width="4.40" height="4.40" fill="#c5203a"/>
<polyline points="160.40,505.60 176.16,499.60 184.04,486.20 199.80,465.00 215.56,441.40 231.32,428.20 239.20,417.40" fill="none" stroke="#0f4f86" stroke-width="1.4" stroke-linejoin="round"/>
<polygon points="160.40,502.96 157.87,507.47 162.93,507.47" fill="#0f4f86"/>
<polygon points="176.16,496.96 173.63,501.47 178.69,501.47" fill="#0f4f86"/>
<polygon points="184.04,483.56 181.51,488.07 186.57,488.07" fill="#0f4f86"/>
<polygon points="199.80,462.36 197.27,466.87 202.33,466.87" fill="#0f4f86"/>
<polygon points="215.56,438.76 213.03,443.27 218.09,443.27" fill="#0f4f86"/>
<polygon points="231.32,425.56 228.79,430.07 233.85,430.07" fill="#0f4f86"/>
<polygon points="239.20,414.76 236.67,419.27 241.73,419.27" fill="#0f4f86"/>
<line x1="199.80" y1="463.20" x2="199.80" y2="466.60" stroke="#000" stroke-width="0.9"/>
<line x1="197.50" y1="463.20" x2="202.10" y2="463.20" stroke="#000" stroke-width="0.9"/>
<line x1="197.50" y1="466.60" x2="202.10" y2="466.60" stroke="#000" stroke-width="0.9"/>
<line x1="215.56" y1="439.60" x2="215.56" y2="443.00" stroke="#000" stroke-width="0.9"/>
<line x1="213.26" y1="439.60" x2="217.86" y2="439.60" stroke="#000" stroke-width="0.9"/>
<line x1="213.26" y1="443.00" x2="217.86" y2="443.00" stroke="#000" stroke-width="0.9"/>
<line x1="231.32" y1="426.40" x2="231.32" y2="429.80" stroke="#000" stroke-width="0.9"/>
<line x1="229.02" y1="426.40" x2="233.62" y2="426.40" stroke="#000" stroke-width="0.9"/>
<line x1="229.02" y1="429.80" x2="233.62" y2="429.80" stroke="#000" stroke-width="0.9"/>
<line x1="239.20" y1="415.60" x2="239.20" y2="419.00" stroke="#000" stroke-width="0.9"/>
<line x1="236.90" y1="415.60" x2="241.50" y2="415.60" stroke="#000" stroke-width="0.9"/>
<line x1="236.90" y1="419.00" x2="241.50" y2="419.00" stroke="#000" stroke-width="0.9"/>
<polyline points="160.40,506.20 176.16,498.50 184.04,483.40 199.80,469.20 215.56,447.00 231.32,432.60 239.20,422.00" fill="none" stroke="#3cb54a" stroke-width="1.4" stroke-linejoin="round"/>
<circle cx="160.40" cy="506.20" r="2.20" fill="#3cb54a"/>
<circle cx="176.16" cy="498.50" r="2.20" fill="#3cb54a"/>
<circle cx="184.04" cy="483.40" r="2.20" fill="#3cb54a"/>
<circle cx="199.80" cy="469.20" r="2.20" fill="#3cb54a"/>
<circle cx="215.56" cy="447.00" r="2.20" fill="#3cb54a"/>
<circle cx="231.32" cy="432.60" r="2.20" fill="#3cb54a"/>
<circle cx="239.20" cy="422.00" r="2.20" fill="#3cb54a"/>
<line x1="195.80" y1="494.40" x2="207.00" y2="494.40" stroke="#3cb54a" stroke-width="1.3"/>
<circle cx="201.40" cy="494.40" r="2.00" fill="#3cb54a"/>
<text x="210.60" y="496.91" font-size="7.0" text-anchor="start" fill="#222">EV</text>
<line x1="195.80" y1="506.20" x2="207.00" y2="506.20" stroke="#c5203a" stroke-width="1.3"/>
<rect x="199.40" y="504.20" width="4.00" height="4.00" fill="#c5203a"/>
<text x="210.60" y="508.71" font-size="7.0" text-anchor="start" fill="#222">HEXIM1 OE</text>
<line x1="195.80" y1="518.10" x2="207.00" y2="518.10" stroke="#0f4f86" stroke-width="1.3"/>
<polygon points="201.40,515.70 199.10,519.80 203.70,519.80" fill="#0f4f86"/>
<text x="210.60" y="520.61" font-size="7.0" text-anchor="start" fill="#222">YYFE OE</text>
<text x="266.30" y="402.07" font-size="13.6" text-anchor="middle" font-weight="bold">J</text>
<text x="356.60" y="399.52" font-size="10.4" text-anchor="middle" textLength="84.40" lengthAdjust="spacingAndGlyphs">Clonal Maturation</text>
<text transform="translate(271.27 464.80) rotate(-90)" font-size="10.8" text-anchor="middle" textLength="107.60" lengthAdjust="spacingAndGlyphs">Live Fold Amplification</text>
<line x1="297.90" y1="406.38" x2="297.90" y2="530.43" stroke="#000" stroke-width="1.45"/>
<line x1="293.70" y1="407.10" x2="297.90" y2="407.10" stroke="#000" stroke-width="1.45"/>
<text x="292.30" y="410.02" font-size="8.15" text-anchor="end">100</text>
<line x1="293.70" y1="431.70" x2="297.90" y2="431.70" stroke="#000" stroke-width="1.45"/>
<text x="292.30" y="434.62" font-size="8.15" text-anchor="end">80</text>
<line x1="293.70" y1="456.20" x2="297.90" y2="456.20" stroke="#000" stroke-width="1.45"/>
<text x="292.30" y="459.12" font-size="8.15" text-anchor="end">60</text>
<line x1="293.70" y1="480.80" x2="297.90" y2="480.80" stroke="#000" stroke-width="1.45"/>
<text x="292.30" y="483.72" font-size="8.15" text-anchor="end">40</text>
<line x1="293.70" y1="505.30" x2="297.90" y2="505.30" stroke="#000" stroke-width="1.45"/>
<text x="292.30" y="508.22" font-size="8.15" text-anchor="end">10</text>
<line x1="293.70" y1="529.70" x2="297.90" y2="529.70" stroke="#000" stroke-width="1.45"/>
<text x="292.30" y="532.62" font-size="8.15" text-anchor="end">0</text>
<line x1="297.17" y1="529.70" x2="393.00" y2="529.70" stroke="#000" stroke-width="1.45"/>
<line x1="303.10" y1="529.70" x2="303.10" y2="533.60" stroke="#000" stroke-width="1.45"/>
<line x1="311.16" y1="529.70" x2="311.16" y2="533.60" stroke="#000" stroke-width="1.45"/>
<line x1="319.22" y1="529.70" x2="319.22" y2="533.60" stroke="#000" stroke-width="1.45"/>
<line x1="327.28" y1="529.70" x2="327.28" y2="533.60" stroke="#000" stroke-width="1.45"/>
<line x1="335.34" y1="529.70" x2="335.34" y2="533.60" stroke="#000" stroke-width="1.45"/>
<line x1="343.40" y1="529.70" x2="343.40" y2="533.60" stroke="#000" stroke-width="1.45"/>
<line x1="351.46" y1="529.70" x2="351.46" y2="533.60" stroke="#000" stroke-width="1.45"/>
<line x1="359.52" y1="529.70" x2="359.52" y2="533.60" stroke="#000" stroke-width="1.45"/>
<line x1="367.58" y1="529.70" x2="367.58" y2="533.60" stroke="#000" stroke-width="1.45"/>
<line x1="375.64" y1="529.70" x2="375.64" y2="533.60" stroke="#000" stroke-width="1.45"/>
<line x1="383.70" y1="529.70" x2="383.70" y2="533.60" stroke="#000" stroke-width="1.45"/>
<text x="303.10" y="544.04" font-size="7.1" text-anchor="middle">D0</text>
<text x="319.22" y="544.04" font-size="7.1" text-anchor="middle">D2</text>
<text x="335.34" y="544.04" font-size="7.1" text-anchor="middle">D4</text>
<text x="351.46" y="544.04" font-size="7.1" text-anchor="middle">D6</text>
<text x="367.58" y="544.04" font-size="7.1" text-anchor="middle">D8</text>
<text x="384.30" y="544.04" font-size="7.1" text-anchor="middle">D10</text>
<text transform="translate(345.00 560.88) scale(0.82 1)" font-size="10" text-anchor="middle" fill="#333">Maturation Day</text>
<line x1="335.34" y1="512.20" x2="335.34" y2="519.10" stroke="#000" stroke-width="1.2"/>
<line x1="332.14" y1="512.20" x2="338.54" y2="512.20" stroke="#000" stroke-width="1.2"/>
<line x1="332.14" y1="519.10" x2="338.54" y2="519.10" stroke="#000" stroke-width="1.2"/>
<line x1="351.46" y1="473.20" x2="351.46" y2="494.40" stroke="#000" stroke-width="1.2"/>
<line x1="348.26" y1="473.20" x2="354.66" y2="473.20" stroke="#000" stroke-width="1.2"/>
<line x1="348.26" y1="494.40" x2="354.66" y2="494.40" stroke="#000" stroke-width="1.2"/>
<line x1="367.58" y1="435.60" x2="367.58" y2="465.20" stroke="#000" stroke-width="1.2"/>
<line x1="364.38" y1="435.60" x2="370.78" y2="435.60" stroke="#000" stroke-width="1.2"/>
<line x1="364.38" y1="465.20" x2="370.78" y2="465.20" stroke="#000" stroke-width="1.2"/>
<line x1="383.70" y1="437.30" x2="383.70" y2="463.50" stroke="#000" stroke-width="1.2"/>
<line x1="380.50" y1="437.30" x2="386.90" y2="437.30" stroke="#000" stroke-width="1.2"/>
<line x1="380.50" y1="463.50" x2="386.90" y2="463.50" stroke="#000" stroke-width="1.2"/>
<polyline points="303.10,529.00 311.16,528.20 335.34,515.50 351.46,483.60 367.58,450.80 383.70,450.80" fill="none" stroke="#c5203a" stroke-width="1.4" stroke-linejoin="round"/>
<rect x="300.90" y="526.80" width="4.40" height="4.40" fill="#c5203a"/>
<rect x="308.96" y="526.00" width="4.40" height="4.40" fill="#c5203a"/>
<rect x="333.14" y="513.30" width="4.40" height="4.40" fill="#c5203a"/>
<rect x="349.26" y="481.40" width="4.40" height="4.40" fill="#c5203a"/>
<rect x="365.38" y="448.60" width="4.40" height="4.40" fill="#c5203a"/>
<rect x="381.50" y="448.60" width="4.40" height="4.40" fill="#c5203a"/>
<line x1="351.46" y1="510.60" x2="351.46" y2="515.00" stroke="#000" stroke-width="1.2"/>
<line x1="348.66" y1="510.60" x2="354.26" y2="510.60" stroke="#000" stroke-width="1.2"/>
<line x1="348.66" y1="515.00" x2="354.26" y2="515.00" stroke="#000" stroke-width="1.2"/>
<line x1="383.70" y1="489.50" x2="383.70" y2="497.00" stroke="#000" stroke-width="1.2"/>
<line x1="380.90" y1="489.50" x2="386.50" y2="489.50" stroke="#000" stroke-width="1.2"/>
<line x1="380.90" y1="497.00" x2="386.50" y2="497.00" stroke="#000" stroke-width="1.2"/>
<polyline points="303.10,529.20 311.16,528.80 335.34,521.30 351.46,512.80 367.58,500.10 383.70,492.70" fill="none" stroke="#0f4f86" stroke-width="1.4" stroke-linejoin="round"/>
<polygon points="303.10,526.56 300.57,531.07 305.63,531.07" fill="#0f4f86"/>
<polygon points="311.16,526.16 308.63,530.67 313.69,530.67" fill="#0f4f86"/>
<polygon points="335.34,518.66 332.81,523.17 337.87,523.17" fill="#0f4f86"/>
<polygon points="351.46,510.16 348.93,514.67 353.99,514.67" fill="#0f4f86"/>
<polygon points="367.58,497.46 365.05,501.97 370.11,501.97" fill="#0f4f86"/>
<polygon points="383.70,490.06 381.17,494.57 386.23,494.57" fill="#0f4f86"/>
<line x1="335.34" y1="519.10" x2="335.34" y2="524.40" stroke="#000" stroke-width="1.2"/>
<line x1="332.54" y1="519.10" x2="338.14" y2="519.10" stroke="#000" stroke-width="1.2"/>
<line x1="332.54" y1="524.40" x2="338.14" y2="524.40" stroke="#000" stroke-width="1.2"/>
<line x1="351.46" y1="513.40" x2="351.46" y2="518.50" stroke="#000" stroke-width="1.2"/>
<line x1="348.66" y1="513.40" x2="354.26" y2="513.40" stroke="#000" stroke-width="1.2"/>
<line x1="348.66" y1="518.50" x2="354.26" y2="518.50" stroke="#000" stroke-width="1.2"/>
<line x1="367.58" y1="497.60" x2="367.58" y2="506.40" stroke="#000" stroke-width="1.2"/>
<line x1="364.78" y1="497.60" x2="370.38" y2="497.60" stroke="#000" stroke-width="1.2"/>
<line x1="364.78" y1="506.40" x2="370.38" y2="506.40" stroke="#000" stroke-width="1.2"/>
<line x1="383.70" y1="495.90" x2="383.70" y2="502.20" stroke="#000" stroke-width="1.2"/>
<line x1="380.90" y1="495.90" x2="386.50" y2="495.90" stroke="#000" stroke-width="1.2"/>
<line x1="380.90" y1="502.20" x2="386.50" y2="502.20" stroke="#000" stroke-width="1.2"/>
<polyline points="303.10,529.30 311.16,529.00 335.34,521.90 351.46,516.00 367.58,501.20 383.70,498.60" fill="none" stroke="#3cb54a" stroke-width="1.4" stroke-linejoin="round"/>
<circle cx="303.10" cy="529.30" r="2.20" fill="#3cb54a"/>
<circle cx="311.16" cy="529.00" r="2.20" fill="#3cb54a"/>
<circle cx="335.34" cy="521.90" r="2.20" fill="#3cb54a"/>
<circle cx="351.46" cy="516.00" r="2.20" fill="#3cb54a"/>
<circle cx="367.58" cy="501.20" r="2.20" fill="#3cb54a"/>
<circle cx="383.70" cy="498.60" r="2.20" fill="#3cb54a"/>
<line x1="307.00" y1="411.50" x2="318.00" y2="411.50" stroke="#3cb54a" stroke-width="1.3"/>
<circle cx="312.50" cy="411.50" r="2.00" fill="#3cb54a"/>
<text x="321.80" y="414.01" font-size="7.0" text-anchor="start" fill="#222">EV</text>
<line x1="307.00" y1="423.50" x2="318.00" y2="423.50" stroke="#c5203a" stroke-width="1.3"/>
<rect x="310.50" y="421.50" width="4.00" height="4.00" fill="#c5203a"/>
<text x="321.80" y="426.01" font-size="7.0" text-anchor="start" fill="#222">HEXIM1 OE</text>
<line x1="307.00" y1="435.40" x2="318.00" y2="435.40" stroke="#0f4f86" stroke-width="1.3"/>
<polygon points="312.50,433.00 310.20,437.10 314.80,437.10" fill="#0f4f86"/>
<text x="321.80" y="437.91" font-size="7.0" text-anchor="start" fill="#222">YYFE OE</text>
<text x="410.10" y="401.87" font-size="13.6" text-anchor="middle" font-weight="bold">K</text>
<text x="461.00" y="399.45" font-size="10.2" text-anchor="middle" textLength="36.70" lengthAdjust="spacingAndGlyphs">CD235a</text>
<text transform="translate(414.27 468.00) rotate(-90)" font-size="10.8" text-anchor="middle" textLength="38.60" lengthAdjust="spacingAndGlyphs">MFI x10<tspan dy="-3.4" font-size="6.6">4</tspan></text>
<rect x="439.40" y="458.80" width="11.70" height="65.40" fill="#3cb54a"/>
<rect x="456.30" y="431.10" width="12.00" height="93.10" fill="#c5203a"/>
<rect x="473.10" y="443.70" width="12.00" height="80.50" fill="#0f4f86"/>
<line x1="434.60" y1="409.67" x2="434.60" y2="524.93" stroke="#000" stroke-width="1.45"/>
<line x1="429.00" y1="410.40" x2="434.60" y2="410.40" stroke="#000" stroke-width="1.45"/>
<text x="427.10" y="413.32" font-size="8.15" text-anchor="end">4</text>
<line x1="429.00" y1="438.80" x2="434.60" y2="438.80" stroke="#000" stroke-width="1.45"/>
<text x="427.10" y="441.72" font-size="8.15" text-anchor="end">3</text>
<line x1="429.00" y1="467.30" x2="434.60" y2="467.30" stroke="#000" stroke-width="1.45"/>
<text x="427.10" y="470.22" font-size="8.15" text-anchor="end">2</text>
<line x1="429.00" y1="495.80" x2="434.60" y2="495.80" stroke="#000" stroke-width="1.45"/>
<text x="427.10" y="498.72" font-size="8.15" text-anchor="end">1</text>
<line x1="429.00" y1="524.20" x2="434.60" y2="524.20" stroke="#000" stroke-width="1.45"/>
<text x="427.10" y="527.12" font-size="8.15" text-anchor="end">0</text>
<line x1="433.88" y1="524.20" x2="491.60" y2="524.20" stroke="#000" stroke-width="1.45"/>
<line x1="445.20" y1="524.20" x2="445.20" y2="528.10" stroke="#000" stroke-width="1.45"/>
<line x1="462.30" y1="524.20" x2="462.30" y2="528.10" stroke="#000" stroke-width="1.45"/>
<line x1="479.10" y1="524.20" x2="479.10" y2="528.10" stroke="#000" stroke-width="1.45"/>
<line x1="445.20" y1="448.60" x2="445.20" y2="469.60" stroke="#000" stroke-width="1.2"/>
<line x1="440.30" y1="448.60" x2="450.10" y2="448.60" stroke="#000" stroke-width="1.2"/>
<line x1="442.20" y1="469.60" x2="448.20" y2="469.60" stroke="#000" stroke-width="1.2"/>
<line x1="479.10" y1="431.20" x2="479.10" y2="456.00" stroke="#000" stroke-width="1.2"/>
<line x1="474.20" y1="431.20" x2="484.00" y2="431.20" stroke="#000" stroke-width="1.2"/>
<line x1="476.10" y1="456.00" x2="482.10" y2="456.00" stroke="#000" stroke-width="1.2"/>
<circle cx="445.20" cy="438.90" r="1.90" fill="#000"/>
<circle cx="445.20" cy="466.70" r="1.90" fill="#000"/>
<circle cx="445.20" cy="472.20" r="1.90" fill="#000"/>
<circle cx="458.30" cy="431.20" r="1.90" fill="#000"/>
<circle cx="461.90" cy="430.50" r="1.90" fill="#000"/>
<circle cx="466.00" cy="429.50" r="1.90" fill="#000"/>
<circle cx="479.20" cy="419.60" r="1.90" fill="#000"/>
<circle cx="479.10" cy="452.00" r="1.90" fill="#000"/>
<circle cx="479.10" cy="458.00" r="1.90" fill="#000"/>
<text transform="translate(448.90 535.80) rotate(-45) scale(0.74 1)" font-size="10.8" text-anchor="end" fill="#000" stroke="#000" stroke-width="0.22">EV</text>
<text transform="translate(465.90 535.80) rotate(-45) scale(0.74 1)" font-size="10.8" text-anchor="end" fill="#000" stroke="#000" stroke-width="0.22">OE</text>
<text transform="translate(483.50 535.80) rotate(-45) scale(0.74 1)" font-size="10.8" text-anchor="end" fill="#000" stroke="#000" stroke-width="0.22">YYFE</text>
<text x="11.30" y="585.67" font-size="13.6" text-anchor="middle" font-weight="bold">L</text>
<text x="22.90" y="588.40" font-size="9.8" text-anchor="middle">i</text>
<text x="64.90" y="583.52" font-size="10.4" text-anchor="middle" textLength="39.00" lengthAdjust="spacingAndGlyphs">Cell Size</text>
<text transform="translate(20.29 647.40) rotate(-90)" font-size="10.6" text-anchor="middle" textLength="66.60" lengthAdjust="spacingAndGlyphs">Cell Size (um<tspan dy="-3.4" font-size="6">2</tspan><tspan dy="3.4">)</tspan></text>
<rect x="54.00" y="647.50" width="16.00" height="61.90" fill="#3cb54a"/>
<rect x="78.10" y="630.00" width="15.90" height="79.40" fill="#c5203a"/>
<line x1="46.30" y1="597.17" x2="46.30" y2="710.12" stroke="#000" stroke-width="1.45"/>
<line x1="42.10" y1="597.90" x2="46.30" y2="597.90" stroke="#000" stroke-width="1.45"/>
<text x="40.70" y="600.82" font-size="8.15" text-anchor="end">100</text>
<line x1="42.10" y1="625.80" x2="46.30" y2="625.80" stroke="#000" stroke-width="1.45"/>
<text x="40.70" y="628.72" font-size="8.15" text-anchor="end">90</text>
<line x1="42.10" y1="653.70" x2="46.30" y2="653.70" stroke="#000" stroke-width="1.45"/>
<text x="40.70" y="656.62" font-size="8.15" text-anchor="end">80</text>
<line x1="42.10" y1="681.50" x2="46.30" y2="681.50" stroke="#000" stroke-width="1.45"/>
<text x="40.70" y="684.42" font-size="8.15" text-anchor="end">70</text>
<line x1="42.10" y1="709.40" x2="46.30" y2="709.40" stroke="#000" stroke-width="1.45"/>
<text x="40.70" y="712.32" font-size="8.15" text-anchor="end">60</text>
<line x1="45.57" y1="709.40" x2="101.70" y2="709.40" stroke="#000" stroke-width="1.45"/>
<line x1="61.80" y1="709.40" x2="61.80" y2="713.30" stroke="#000" stroke-width="1.45"/>
<line x1="86.20" y1="709.40" x2="86.20" y2="713.30" stroke="#000" stroke-width="1.45"/>
<line x1="62.10" y1="644.60" x2="62.10" y2="650.40" stroke="#000" stroke-width="1.2"/>
<line x1="58.90" y1="644.60" x2="65.30" y2="644.60" stroke="#000" stroke-width="1.2"/>
<line x1="58.90" y1="650.40" x2="65.30" y2="650.40" stroke="#000" stroke-width="1.2"/>
<line x1="86.20" y1="621.90" x2="86.20" y2="637.30" stroke="#000" stroke-width="1.2"/>
<line x1="82.80" y1="621.90" x2="89.60" y2="621.90" stroke="#000" stroke-width="1.2"/>
<line x1="82.80" y1="637.30" x2="89.60" y2="637.30" stroke="#000" stroke-width="1.2"/>
<circle cx="62.10" cy="641.50" r="1.80" fill="#000"/>
<circle cx="58.50" cy="654.00" r="1.80" fill="#000"/>
<circle cx="62.30" cy="649.80" r="1.80" fill="#000"/>
<circle cx="65.60" cy="651.20" r="1.80" fill="#000"/>
<circle cx="86.20" cy="615.80" r="1.80" fill="#000"/>
<circle cx="86.20" cy="620.40" r="1.80" fill="#000"/>
<circle cx="82.90" cy="643.10" r="1.80" fill="#000"/>
<circle cx="89.20" cy="641.50" r="1.80" fill="#000"/>
<line x1="65.20" y1="606.20" x2="81.00" y2="606.20" stroke="#000" stroke-width="1.7"/>
<text x="72.90" y="602.46" font-size="8.0" text-anchor="middle" font-weight="bold">*</text>
<text transform="translate(67.60 722.40) rotate(-45) scale(0.74 1)" font-size="10.8" text-anchor="end" fill="#000" stroke="#000" stroke-width="0.22">EV</text>
<text transform="translate(93.60 722.40) rotate(-45) scale(0.74 1)" font-size="10.8" text-anchor="end" fill="#000" stroke="#000" stroke-width="0.22">HEXIM1 OE</text>
<text x="177.60" y="583.52" font-size="10.4" text-anchor="middle" textLength="57.20" lengthAdjust="spacingAndGlyphs">Nuclear Size</text>
<text transform="translate(126.09 645.20) rotate(-90)" font-size="10.6" text-anchor="middle" textLength="84.60" lengthAdjust="spacingAndGlyphs">Nuclear Size (um<tspan dy="-3.4" font-size="6">2</tspan><tspan dy="3.4">)</tspan></text>
<rect x="155.20" y="635.40" width="16.00" height="71.60" fill="#3cb54a"/>
<rect x="179.20" y="622.90" width="16.00" height="84.10" fill="#c5203a"/>
<line x1="147.10" y1="594.67" x2="147.10" y2="707.73" stroke="#000" stroke-width="1.45"/>
<line x1="142.90" y1="595.40" x2="147.10" y2="595.40" stroke="#000" stroke-width="1.45"/>
<line x1="142.90" y1="623.40" x2="147.10" y2="623.40" stroke="#000" stroke-width="1.45"/>
<text x="141.20" y="626.32" font-size="8.15" text-anchor="end">55</text>
<line x1="142.90" y1="651.30" x2="147.10" y2="651.30" stroke="#000" stroke-width="1.45"/>
<text x="141.20" y="654.22" font-size="8.15" text-anchor="end">50</text>
<line x1="142.90" y1="679.10" x2="147.10" y2="679.10" stroke="#000" stroke-width="1.45"/>
<text x="141.20" y="682.02" font-size="8.15" text-anchor="end">45</text>
<line x1="142.90" y1="707.00" x2="147.10" y2="707.00" stroke="#000" stroke-width="1.45"/>
<text x="141.20" y="709.92" font-size="8.15" text-anchor="end">40</text>
<text x="138.70" y="598.32" font-size="8.15" text-anchor="end">60</text>
<line x1="146.38" y1="707.00" x2="203.00" y2="707.00" stroke="#000" stroke-width="1.45"/>
<line x1="162.90" y1="707.00" x2="162.90" y2="710.90" stroke="#000" stroke-width="1.45"/>
<line x1="187.30" y1="707.00" x2="187.30" y2="710.90" stroke="#000" stroke-width="1.45"/>
<line x1="162.90" y1="632.00" x2="162.90" y2="638.20" stroke="#000" stroke-width="1.2"/>
<line x1="159.70" y1="632.00" x2="166.10" y2="632.00" stroke="#000" stroke-width="1.2"/>
<line x1="159.70" y1="638.20" x2="166.10" y2="638.20" stroke="#000" stroke-width="1.2"/>
<line x1="187.30" y1="619.80" x2="187.30" y2="624.80" stroke="#000" stroke-width="1.2"/>
<line x1="184.10" y1="619.80" x2="190.50" y2="619.80" stroke="#000" stroke-width="1.2"/>
<line x1="184.10" y1="624.80" x2="190.50" y2="624.80" stroke="#000" stroke-width="1.2"/>
<circle cx="159.60" cy="632.10" r="1.80" fill="#000"/>
<circle cx="166.30" cy="630.20" r="1.80" fill="#000"/>
<circle cx="159.60" cy="638.30" r="1.80" fill="#000"/>
<circle cx="166.30" cy="638.30" r="1.80" fill="#000"/>
<circle cx="187.30" cy="616.70" r="1.80" fill="#000"/>
<circle cx="184.00" cy="621.30" r="1.80" fill="#000"/>
<circle cx="190.80" cy="621.30" r="1.80" fill="#000"/>
<circle cx="187.30" cy="626.30" r="1.80" fill="#000"/>
<line x1="166.20" y1="606.90" x2="182.10" y2="606.90" stroke="#000" stroke-width="1.7"/>
<text x="174.00" y="602.86" font-size="8.0" text-anchor="middle" font-weight="bold">*</text>
<text transform="translate(168.60 720.00) rotate(-45) scale(0.74 1)" font-size="10.8" text-anchor="end" fill="#000" stroke="#000" stroke-width="0.22">EV</text>
<text transform="translate(194.60 720.00) rotate(-45) scale(0.74 1)" font-size="10.8" text-anchor="end" fill="#000" stroke="#000" stroke-width="0.22">HEXIM1 OE</text>
<text x="265.20" y="583.45" font-size="10.2" text-anchor="middle" textLength="37.00" lengthAdjust="spacingAndGlyphs">CD235a</text>
<text transform="translate(212.77 644.20) rotate(-90)" font-size="10.8" text-anchor="middle" textLength="82.40" lengthAdjust="spacingAndGlyphs">CD235a MFI x10<tspan dy="-3.4" font-size="6.6">3</tspan></text>
<rect x="242.60" y="660.00" width="15.80" height="47.00" fill="#3cb54a"/>
<rect x="266.90" y="636.90" width="15.80" height="70.10" fill="#c5203a"/>
<line x1="235.00" y1="594.67" x2="235.00" y2="707.73" stroke="#000" stroke-width="1.45"/>
<line x1="230.40" y1="595.40" x2="235.00" y2="595.40" stroke="#000" stroke-width="1.45"/>
<text x="228.80" y="598.32" font-size="8.15" text-anchor="end">15</text>
<line x1="230.40" y1="633.10" x2="235.00" y2="633.10" stroke="#000" stroke-width="1.45"/>
<text x="228.80" y="636.02" font-size="8.15" text-anchor="end">10</text>
<line x1="230.40" y1="669.60" x2="235.00" y2="669.60" stroke="#000" stroke-width="1.45"/>
<text x="228.80" y="672.52" font-size="8.15" text-anchor="end">5</text>
<line x1="230.40" y1="707.00" x2="235.00" y2="707.00" stroke="#000" stroke-width="1.45"/>
<text x="228.80" y="709.92" font-size="8.15" text-anchor="end">5</text>
<line x1="234.28" y1="707.00" x2="290.20" y2="707.00" stroke="#000" stroke-width="1.45"/>
<line x1="250.40" y1="707.00" x2="250.40" y2="710.90" stroke="#000" stroke-width="1.45"/>
<line x1="274.60" y1="707.00" x2="274.60" y2="710.90" stroke="#000" stroke-width="1.45"/>
<line x1="274.60" y1="627.30" x2="274.60" y2="645.20" stroke="#000" stroke-width="1.2"/>
<line x1="271.10" y1="627.30" x2="278.10" y2="627.30" stroke="#000" stroke-width="1.2"/>
<line x1="271.10" y1="645.20" x2="278.10" y2="645.20" stroke="#000" stroke-width="1.2"/>
<circle cx="244.60" cy="660.00" r="1.80" fill="#000"/>
<circle cx="248.30" cy="658.20" r="1.80" fill="#000"/>
<circle cx="252.60" cy="660.50" r="1.80" fill="#000"/>
<circle cx="256.60" cy="659.30" r="1.80" fill="#000"/>
<circle cx="271.20" cy="622.30" r="1.90" fill="#000"/>
<circle cx="277.50" cy="621.00" r="1.90" fill="#000"/>
<circle cx="271.20" cy="651.30" r="1.90" fill="#000"/>
<circle cx="277.50" cy="651.30" r="1.90" fill="#000"/>
<line x1="255.80" y1="614.20" x2="271.50" y2="614.20" stroke="#000" stroke-width="1.7"/>
<text x="263.80" y="610.16" font-size="8.0" text-anchor="middle" font-weight="bold">*</text>
<text transform="translate(256.00 720.00) rotate(-45) scale(0.74 1)" font-size="10.8" text-anchor="end" fill="#000" stroke="#000" stroke-width="0.22">EV</text>
<text transform="translate(282.00 720.00) rotate(-45) scale(0.74 1)" font-size="10.8" text-anchor="end" fill="#000" stroke="#000" stroke-width="0.22">HEXIM1 OE</text>
<text x="304.00" y="588.60" font-size="10.0" text-anchor="middle">ii</text>
<text transform="translate(320.22 612.30) rotate(-90)" font-size="10.4" text-anchor="start" textLength="12.00" lengthAdjust="spacingAndGlyphs">BF</text>
<text transform="translate(335.32 612.30) rotate(-90)" font-size="10.4" text-anchor="start" textLength="20.00" lengthAdjust="spacingAndGlyphs">GFP</text>
<text transform="translate(350.42 612.30) rotate(-90)" font-size="10.4" text-anchor="start" textLength="22.40" lengthAdjust="spacingAndGlyphs">DNA</text>
<text transform="translate(365.42 612.30) rotate(-90)" font-size="10.4" text-anchor="start" textLength="37.60" lengthAdjust="spacingAndGlyphs">CD235a</text>
<text transform="translate(390.32 612.30) rotate(-90)" font-size="10.4" text-anchor="start" textLength="12.00" lengthAdjust="spacingAndGlyphs">BF</text>
<text transform="translate(405.62 612.30) rotate(-90)" font-size="10.4" text-anchor="start" textLength="20.00" lengthAdjust="spacingAndGlyphs">GFP</text>
<text transform="translate(421.02 612.30) rotate(-90)" font-size="10.4" text-anchor="start" textLength="22.40" lengthAdjust="spacingAndGlyphs">DNA</text>
<text transform="translate(436.32 612.30) rotate(-90)" font-size="10.4" text-anchor="start" textLength="37.60" lengthAdjust="spacingAndGlyphs">CD235a</text>
<text transform="translate(461.52 612.30) rotate(-90)" font-size="10.4" text-anchor="start" textLength="12.00" lengthAdjust="spacingAndGlyphs">BF</text>
<text transform="translate(476.62 612.30) rotate(-90)" font-size="10.4" text-anchor="start" textLength="20.00" lengthAdjust="spacingAndGlyphs">GFP</text>
<text transform="translate(492.22 612.30) rotate(-90)" font-size="10.4" text-anchor="start" textLength="22.40" lengthAdjust="spacingAndGlyphs">DNA</text>
<text transform="translate(507.12 612.30) rotate(-90)" font-size="10.4" text-anchor="start" textLength="37.60" lengthAdjust="spacingAndGlyphs">CD235a</text>
<text transform="translate(338.20 723.72) scale(0.8 1)" font-size="10.4" text-anchor="middle" fill="#333">Untransduced</text>
<text transform="translate(409.20 723.72) scale(0.8 1)" font-size="10.4" text-anchor="middle" fill="#333">Empty Vector</text>
<text transform="translate(479.80 723.72) scale(0.8 1)" font-size="10.4" text-anchor="middle" fill="#333">Hexim1 OE</text>
<rect x="306.60" y="620.60" width="16.20" height="90.40" fill="#b6b6b6"/>
<rect x="322.80" y="620.60" width="50.20" height="90.40" fill="#040404"/>
<line x1="306.20" y1="641.20" x2="373.20" y2="641.20" stroke="#777" stroke-width="0.7"/>
<line x1="322.60" y1="641.20" x2="373.20" y2="641.20" stroke="#1e1e1e" stroke-width="0.7"/>
<line x1="306.20" y1="666.20" x2="373.20" y2="666.20" stroke="#777" stroke-width="0.7"/>
<line x1="322.60" y1="666.20" x2="373.20" y2="666.20" stroke="#1e1e1e" stroke-width="0.7"/>
<line x1="306.20" y1="688.00" x2="373.20" y2="688.00" stroke="#777" stroke-width="0.7"/>
<line x1="322.60" y1="688.00" x2="373.20" y2="688.00" stroke="#1e1e1e" stroke-width="0.7"/>
<circle cx="314.60" cy="630.60" r="5.90" fill="#dadada" filter="url(#b1)"/>
<circle cx="314.60" cy="630.60" r="5.00" fill="#808080" filter="url(#b1)"/>
<circle cx="314.60" cy="630.60" r="3.90" fill="#dedede" filter="url(#b1)"/>
<ellipse cx="315.00" cy="630.90" rx="2.25" ry="2.00" fill="#b4b4b4" filter="url(#b2)" opacity="0.8"/>
<circle cx="313.10" cy="629.10" r="1.10" fill="#e4e4e4" filter="url(#b1)" opacity="0.8"/>
<ellipse cx="330.60" cy="630.60" rx="3.60" ry="3.60" fill="#2ee02e" filter="url(#b2)" opacity="0.28"/>
<ellipse cx="347.60" cy="630.60" rx="3.80" ry="4.30" fill="#b040e0" filter="url(#b1)" opacity="0.55"/>
<ellipse cx="363.80" cy="630.60" rx="3.80" ry="4.30" fill="#f6ee14" filter="url(#b1)" opacity="0.95"/>
<circle cx="314.60" cy="653.70" r="5.90" fill="#dadada" filter="url(#b1)"/>
<circle cx="314.60" cy="653.70" r="5.00" fill="#808080" filter="url(#b1)"/>
<circle cx="314.60" cy="653.70" r="3.90" fill="#dedede" filter="url(#b1)"/>
<ellipse cx="315.00" cy="654.00" rx="2.25" ry="2.00" fill="#b4b4b4" filter="url(#b2)" opacity="0.8"/>
<circle cx="313.10" cy="652.20" r="1.10" fill="#e4e4e4" filter="url(#b1)" opacity="0.8"/>
<ellipse cx="330.60" cy="653.70" rx="3.60" ry="3.60" fill="#2ee02e" filter="url(#b2)" opacity="0.3"/>
<ellipse cx="347.60" cy="653.70" rx="3.80" ry="4.30" fill="#b040e0" filter="url(#b1)" opacity="0.95"/>
<ellipse cx="363.80" cy="653.70" rx="3.80" ry="4.30" fill="#f6ee14" filter="url(#b1)" opacity="0.6"/>
<circle cx="314.60" cy="677.10" r="5.90" fill="#dadada" filter="url(#b1)"/>
<circle cx="314.60" cy="677.10" r="5.00" fill="#808080" filter="url(#b1)"/>
<circle cx="314.60" cy="677.10" r="3.90" fill="#dedede" filter="url(#b1)"/>
<ellipse cx="315.00" cy="677.40" rx="2.25" ry="2.00" fill="#b4b4b4" filter="url(#b2)" opacity="0.8"/>
<circle cx="313.10" cy="675.60" r="1.10" fill="#e4e4e4" filter="url(#b1)" opacity="0.8"/>
<ellipse cx="330.60" cy="677.10" rx="3.60" ry="3.60" fill="#2ee02e" filter="url(#b2)" opacity="0.3"/>
<ellipse cx="347.60" cy="677.10" rx="3.80" ry="4.30" fill="#b040e0" filter="url(#b1)" opacity="0.95"/>
<ellipse cx="363.80" cy="677.10" rx="3.80" ry="4.30" fill="#f6ee14" filter="url(#b1)" opacity="0.55"/>
<circle cx="314.60" cy="699.30" r="5.90" fill="#dadada" filter="url(#b1)"/>
<circle cx="314.60" cy="699.30" r="5.00" fill="#808080" filter="url(#b1)"/>
<circle cx="314.60" cy="699.30" r="3.90" fill="#dedede" filter="url(#b1)"/>
<ellipse cx="315.00" cy="699.60" rx="2.25" ry="2.00" fill="#b4b4b4" filter="url(#b2)" opacity="0.8"/>
<circle cx="313.10" cy="697.80" r="1.10" fill="#e4e4e4" filter="url(#b1)" opacity="0.8"/>
<ellipse cx="330.60" cy="699.30" rx="3.60" ry="3.60" fill="#2ee02e" filter="url(#b2)" opacity="0.3"/>
<ellipse cx="347.60" cy="699.30" rx="3.80" ry="4.30" fill="#b040e0" filter="url(#b1)" opacity="0.75"/>
<ellipse cx="363.80" cy="699.30" rx="3.80" ry="4.30" fill="#f6ee14" filter="url(#b1)" opacity="0.6"/>
<rect x="375.40" y="619.40" width="16.60" height="91.60" fill="#b6b6b6"/>
<rect x="392.00" y="619.40" width="51.80" height="91.60" fill="#040404"/>
<line x1="375.00" y1="642.40" x2="443.80" y2="642.40" stroke="#777" stroke-width="0.7"/>
<line x1="392.20" y1="642.40" x2="443.80" y2="642.40" stroke="#1e1e1e" stroke-width="0.7"/>
<line x1="375.00" y1="666.00" x2="443.80" y2="666.00" stroke="#777" stroke-width="0.7"/>
<line x1="392.20" y1="666.00" x2="443.80" y2="666.00" stroke="#1e1e1e" stroke-width="0.7"/>
<line x1="375.00" y1="688.20" x2="443.80" y2="688.20" stroke="#777" stroke-width="0.7"/>
<line x1="392.20" y1="688.20" x2="443.80" y2="688.20" stroke="#1e1e1e" stroke-width="0.7"/>
<circle cx="383.60" cy="630.80" r="5.90" fill="#dadada" filter="url(#b1)"/>
<circle cx="383.60" cy="630.80" r="5.00" fill="#808080" filter="url(#b1)"/>
<circle cx="383.60" cy="630.80" r="3.90" fill="#d4d4d4" filter="url(#b1)"/>
<ellipse cx="384.00" cy="631.10" rx="2.25" ry="2.00" fill="#a8a8a8" filter="url(#b2)" opacity="0.8"/>
<circle cx="382.10" cy="629.30" r="1.10" fill="#e4e4e4" filter="url(#b1)" opacity="0.8"/>
<ellipse cx="400.80" cy="630.80" rx="3.60" ry="4.20" fill="#2ee02e" filter="url(#b2)" opacity="0.45"/>
<ellipse cx="417.60" cy="630.80" rx="3.70" ry="4.20" fill="#b040e0" filter="url(#b1)" opacity="0.55"/>
<ellipse cx="435.00" cy="630.80" rx="3.30" ry="4.30" fill="#f6ee14" filter="url(#b1)" opacity="0.5"/>
<circle cx="383.60" cy="654.20" r="5.90" fill="#dadada" filter="url(#b1)"/>
<circle cx="383.60" cy="654.20" r="5.00" fill="#808080" filter="url(#b1)"/>
<circle cx="383.60" cy="654.20" r="3.90" fill="#d4d4d4" filter="url(#b1)"/>
<ellipse cx="384.00" cy="654.50" rx="2.25" ry="2.00" fill="#a8a8a8" filter="url(#b2)" opacity="0.8"/>
<circle cx="382.10" cy="652.70" r="1.10" fill="#e4e4e4" filter="url(#b1)" opacity="0.8"/>
<ellipse cx="400.80" cy="654.20" rx="3.60" ry="4.20" fill="#2ee02e" filter="url(#b2)" opacity="0.6"/>
<ellipse cx="417.60" cy="654.20" rx="3.70" ry="4.20" fill="#b040e0" filter="url(#b1)" opacity="0.5"/>
<ellipse cx="435.00" cy="654.20" rx="3.30" ry="4.30" fill="#f6ee14" filter="url(#b1)" opacity="0.6"/>
<circle cx="383.60" cy="677.10" r="5.90" fill="#dadada" filter="url(#b1)"/>
<circle cx="383.60" cy="677.10" r="5.00" fill="#808080" filter="url(#b1)"/>
<circle cx="383.60" cy="677.10" r="3.90" fill="#d4d4d4" filter="url(#b1)"/>
<ellipse cx="384.00" cy="677.40" rx="2.25" ry="2.00" fill="#a8a8a8" filter="url(#b2)" opacity="0.8"/>
<circle cx="382.10" cy="675.60" r="1.10" fill="#e4e4e4" filter="url(#b1)" opacity="0.8"/>
<ellipse cx="400.80" cy="677.10" rx="3.60" ry="4.20" fill="#2ee02e" filter="url(#b2)" opacity="0.9"/>
<ellipse cx="417.60" cy="677.10" rx="3.70" ry="4.20" fill="#b040e0" filter="url(#b1)" opacity="0.5"/>
<ellipse cx="435.00" cy="677.10" rx="3.30" ry="4.30" fill="#f6ee14" filter="url(#b1)" opacity="0.55"/>
<circle cx="383.60" cy="699.60" r="5.90" fill="#dadada" filter="url(#b1)"/>
<circle cx="383.60" cy="699.60" r="5.00" fill="#808080" filter="url(#b1)"/>
<circle cx="383.60" cy="699.60" r="3.90" fill="#d4d4d4" filter="url(#b1)"/>
<ellipse cx="384.00" cy="699.90" rx="2.25" ry="2.00" fill="#a8a8a8" filter="url(#b2)" opacity="0.8"/>
<circle cx="382.10" cy="698.10" r="1.10" fill="#e4e4e4" filter="url(#b1)" opacity="0.8"/>
<ellipse cx="400.80" cy="699.60" rx="3.60" ry="4.20" fill="#2ee02e" filter="url(#b2)" opacity="1.0"/>
<ellipse cx="417.60" cy="699.60" rx="3.70" ry="4.20" fill="#b040e0" filter="url(#b1)" opacity="0.6"/>
<ellipse cx="435.00" cy="699.60" rx="3.30" ry="4.30" fill="#f6ee14" filter="url(#b1)" opacity="0.6"/>
<rect x="448.00" y="622.40" width="15.80" height="89.40" fill="#b6b6b6"/>
<rect x="463.80" y="622.40" width="48.00" height="89.40" fill="#040404"/>
<line x1="448.00" y1="643.00" x2="511.80" y2="643.00" stroke="#777" stroke-width="0.7"/>
<line x1="463.80" y1="643.00" x2="511.80" y2="643.00" stroke="#1e1e1e" stroke-width="0.7"/>
<line x1="448.00" y1="665.00" x2="511.80" y2="665.00" stroke="#777" stroke-width="0.7"/>
<line x1="463.80" y1="665.00" x2="511.80" y2="665.00" stroke="#1e1e1e" stroke-width="0.7"/>
<line x1="448.00" y1="688.00" x2="511.80" y2="688.00" stroke="#777" stroke-width="0.7"/>
<line x1="463.80" y1="688.00" x2="511.80" y2="688.00" stroke="#1e1e1e" stroke-width="0.7"/>
<circle cx="455.80" cy="632.70" r="5.50" fill="#dadada" filter="url(#b1)"/>
<circle cx="455.80" cy="632.70" r="4.60" fill="#6a6a6a" filter="url(#b1)"/>
<circle cx="455.80" cy="632.70" r="3.50" fill="#d8d8d8" filter="url(#b1)"/>
<ellipse cx="456.20" cy="633.00" rx="2.07" ry="1.84" fill="#888" filter="url(#b2)" opacity="0.8"/>
<circle cx="454.42" cy="631.32" r="1.01" fill="#e4e4e4" filter="url(#b1)" opacity="0.8"/>
<ellipse cx="471.40" cy="632.70" rx="3.40" ry="3.40" fill="#2ee02e" filter="url(#b1)" opacity="0.75"/>
<ellipse cx="486.40" cy="632.70" rx="3.80" ry="4.30" fill="#b040e0" filter="url(#b1)" opacity="0.7"/>
<ellipse cx="503.00" cy="632.70" rx="3.60" ry="3.60" fill="#f6ee14" filter="url(#b1)" opacity="1.0"/>
<circle cx="455.80" cy="654.00" r="5.50" fill="#dadada" filter="url(#b1)"/>
<circle cx="455.80" cy="654.00" r="4.60" fill="#6a6a6a" filter="url(#b1)"/>
<circle cx="455.80" cy="654.00" r="3.50" fill="#bcbcbc" filter="url(#b1)"/>
<ellipse cx="456.20" cy="654.30" rx="2.07" ry="1.84" fill="#888" filter="url(#b2)" opacity="0.8"/>
<circle cx="454.42" cy="652.62" r="1.01" fill="#e4e4e4" filter="url(#b1)" opacity="0.8"/>
<ellipse cx="471.40" cy="654.00" rx="3.90" ry="3.90" fill="#2ee02e" filter="url(#b1)" opacity="0.75"/>
<ellipse cx="486.40" cy="654.00" rx="3.80" ry="4.30" fill="#b040e0" filter="url(#b1)" opacity="0.6"/>
<ellipse cx="503.00" cy="654.00" rx="4.20" ry="4.20" fill="#f6ee14" filter="url(#b1)" opacity="1.0"/>
<circle cx="455.80" cy="676.50" r="5.50" fill="#dadada" filter="url(#b1)"/>
<circle cx="455.80" cy="676.50" r="4.60" fill="#6a6a6a" filter="url(#b1)"/>
<circle cx="455.80" cy="676.50" r="3.50" fill="#bcbcbc" filter="url(#b1)"/>
<ellipse cx="456.20" cy="676.80" rx="2.07" ry="1.84" fill="#888" filter="url(#b2)" opacity="0.8"/>
<circle cx="454.42" cy="675.12" r="1.01" fill="#e4e4e4" filter="url(#b1)" opacity="0.8"/>
<ellipse cx="471.40" cy="676.50" rx="4.80" ry="4.80" fill="#58e838" filter="url(#b1)" opacity="1.0"/>
<ellipse cx="486.40" cy="676.50" rx="3.80" ry="4.30" fill="#b040e0" filter="url(#b1)" opacity="0.6"/>
<ellipse cx="503.00" cy="676.50" rx="6.30" ry="6.30" fill="#f6ee14" filter="url(#b1)" opacity="1.0"/>
<circle cx="455.80" cy="699.90" r="5.50" fill="#dadada" filter="url(#b1)"/>
<circle cx="455.80" cy="699.90" r="4.60" fill="#6a6a6a" filter="url(#b1)"/>
<circle cx="455.80" cy="699.90" r="3.50" fill="#bcbcbc" filter="url(#b1)"/>
<ellipse cx="456.20" cy="700.20" rx="2.07" ry="1.84" fill="#888" filter="url(#b2)" opacity="0.8"/>
<circle cx="454.42" cy="698.52" r="1.01" fill="#e4e4e4" filter="url(#b1)" opacity="0.8"/>
<ellipse cx="471.40" cy="699.90" rx="5.40" ry="5.40" fill="#58e838" filter="url(#b1)" opacity="1.0"/>
<ellipse cx="486.40" cy="699.90" rx="3.80" ry="4.30" fill="#b040e0" filter="url(#b1)" opacity="0.85"/>
<ellipse cx="503.00" cy="699.90" rx="6.00" ry="6.00" fill="#f6ee14" filter="url(#b1)" opacity="1.0"/>
</g>
<rect x="0.00" y="0.00" width="520.00" height="1.30" fill="#000"/>
<rect x="0.00" y="0.00" width="1.50" height="758.00" fill="#000"/>
<rect x="518.40" y="0.00" width="1.60" height="758.00" fill="#000"/>
<rect x="0.00" y="756.40" width="520.00" height="1.60" fill="#000"/>
</svg>
</body></html>
